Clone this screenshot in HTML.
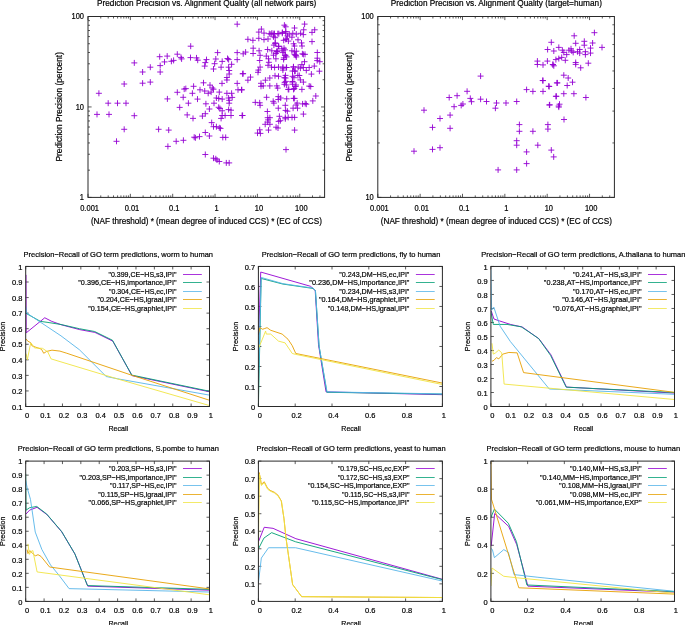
<!DOCTYPE html>
<html><head><meta charset="utf-8"><style>html,body{margin:0;padding:0;background:#fff;overflow:hidden}svg{display:block;will-change:transform}text{font-family:"Liberation Sans",sans-serif;stroke:#000;stroke-width:0.2px}</style></head>
<body>
<svg width="685" height="625" viewBox="0 0 685 625" font-family="Liberation Sans, sans-serif" fill="#000">
<rect width="685" height="625" fill="#fff"/>
<line x1="88.00" y1="197.40" x2="88.00" y2="193.80" stroke="#333" stroke-width="0.8" />
<line x1="88.00" y1="16.50" x2="88.00" y2="20.10" stroke="#333" stroke-width="0.8" />
<line x1="100.75" y1="197.40" x2="100.75" y2="195.40" stroke="#333" stroke-width="0.8" />
<line x1="100.75" y1="16.50" x2="100.75" y2="18.50" stroke="#333" stroke-width="0.8" />
<line x1="108.21" y1="197.40" x2="108.21" y2="195.40" stroke="#333" stroke-width="0.8" />
<line x1="108.21" y1="16.50" x2="108.21" y2="18.50" stroke="#333" stroke-width="0.8" />
<line x1="113.50" y1="197.40" x2="113.50" y2="195.40" stroke="#333" stroke-width="0.8" />
<line x1="113.50" y1="16.50" x2="113.50" y2="18.50" stroke="#333" stroke-width="0.8" />
<line x1="117.60" y1="197.40" x2="117.60" y2="195.40" stroke="#333" stroke-width="0.8" />
<line x1="117.60" y1="16.50" x2="117.60" y2="18.50" stroke="#333" stroke-width="0.8" />
<line x1="120.95" y1="197.40" x2="120.95" y2="195.40" stroke="#333" stroke-width="0.8" />
<line x1="120.95" y1="16.50" x2="120.95" y2="18.50" stroke="#333" stroke-width="0.8" />
<line x1="123.79" y1="197.40" x2="123.79" y2="195.40" stroke="#333" stroke-width="0.8" />
<line x1="123.79" y1="16.50" x2="123.79" y2="18.50" stroke="#333" stroke-width="0.8" />
<line x1="126.25" y1="197.40" x2="126.25" y2="195.40" stroke="#333" stroke-width="0.8" />
<line x1="126.25" y1="16.50" x2="126.25" y2="18.50" stroke="#333" stroke-width="0.8" />
<line x1="128.41" y1="197.40" x2="128.41" y2="195.40" stroke="#333" stroke-width="0.8" />
<line x1="128.41" y1="16.50" x2="128.41" y2="18.50" stroke="#333" stroke-width="0.8" />
<text x="89.60" y="210.60" font-size="8.4" text-anchor="middle" textLength="18.77" lengthAdjust="spacingAndGlyphs" >0.001</text>
<line x1="130.35" y1="197.40" x2="130.35" y2="193.80" stroke="#333" stroke-width="0.8" />
<line x1="130.35" y1="16.50" x2="130.35" y2="20.10" stroke="#333" stroke-width="0.8" />
<line x1="143.10" y1="197.40" x2="143.10" y2="195.40" stroke="#333" stroke-width="0.8" />
<line x1="143.10" y1="16.50" x2="143.10" y2="18.50" stroke="#333" stroke-width="0.8" />
<line x1="150.56" y1="197.40" x2="150.56" y2="195.40" stroke="#333" stroke-width="0.8" />
<line x1="150.56" y1="16.50" x2="150.56" y2="18.50" stroke="#333" stroke-width="0.8" />
<line x1="155.85" y1="197.40" x2="155.85" y2="195.40" stroke="#333" stroke-width="0.8" />
<line x1="155.85" y1="16.50" x2="155.85" y2="18.50" stroke="#333" stroke-width="0.8" />
<line x1="159.95" y1="197.40" x2="159.95" y2="195.40" stroke="#333" stroke-width="0.8" />
<line x1="159.95" y1="16.50" x2="159.95" y2="18.50" stroke="#333" stroke-width="0.8" />
<line x1="163.30" y1="197.40" x2="163.30" y2="195.40" stroke="#333" stroke-width="0.8" />
<line x1="163.30" y1="16.50" x2="163.30" y2="18.50" stroke="#333" stroke-width="0.8" />
<line x1="166.14" y1="197.40" x2="166.14" y2="195.40" stroke="#333" stroke-width="0.8" />
<line x1="166.14" y1="16.50" x2="166.14" y2="18.50" stroke="#333" stroke-width="0.8" />
<line x1="168.60" y1="197.40" x2="168.60" y2="195.40" stroke="#333" stroke-width="0.8" />
<line x1="168.60" y1="16.50" x2="168.60" y2="18.50" stroke="#333" stroke-width="0.8" />
<line x1="170.76" y1="197.40" x2="170.76" y2="195.40" stroke="#333" stroke-width="0.8" />
<line x1="170.76" y1="16.50" x2="170.76" y2="18.50" stroke="#333" stroke-width="0.8" />
<text x="131.95" y="210.60" font-size="8.4" text-anchor="middle" textLength="14.60" lengthAdjust="spacingAndGlyphs" >0.01</text>
<line x1="172.70" y1="197.40" x2="172.70" y2="193.80" stroke="#333" stroke-width="0.8" />
<line x1="172.70" y1="16.50" x2="172.70" y2="20.10" stroke="#333" stroke-width="0.8" />
<line x1="185.45" y1="197.40" x2="185.45" y2="195.40" stroke="#333" stroke-width="0.8" />
<line x1="185.45" y1="16.50" x2="185.45" y2="18.50" stroke="#333" stroke-width="0.8" />
<line x1="192.91" y1="197.40" x2="192.91" y2="195.40" stroke="#333" stroke-width="0.8" />
<line x1="192.91" y1="16.50" x2="192.91" y2="18.50" stroke="#333" stroke-width="0.8" />
<line x1="198.20" y1="197.40" x2="198.20" y2="195.40" stroke="#333" stroke-width="0.8" />
<line x1="198.20" y1="16.50" x2="198.20" y2="18.50" stroke="#333" stroke-width="0.8" />
<line x1="202.30" y1="197.40" x2="202.30" y2="195.40" stroke="#333" stroke-width="0.8" />
<line x1="202.30" y1="16.50" x2="202.30" y2="18.50" stroke="#333" stroke-width="0.8" />
<line x1="205.65" y1="197.40" x2="205.65" y2="195.40" stroke="#333" stroke-width="0.8" />
<line x1="205.65" y1="16.50" x2="205.65" y2="18.50" stroke="#333" stroke-width="0.8" />
<line x1="208.49" y1="197.40" x2="208.49" y2="195.40" stroke="#333" stroke-width="0.8" />
<line x1="208.49" y1="16.50" x2="208.49" y2="18.50" stroke="#333" stroke-width="0.8" />
<line x1="210.95" y1="197.40" x2="210.95" y2="195.40" stroke="#333" stroke-width="0.8" />
<line x1="210.95" y1="16.50" x2="210.95" y2="18.50" stroke="#333" stroke-width="0.8" />
<line x1="213.11" y1="197.40" x2="213.11" y2="195.40" stroke="#333" stroke-width="0.8" />
<line x1="213.11" y1="16.50" x2="213.11" y2="18.50" stroke="#333" stroke-width="0.8" />
<text x="174.30" y="210.60" font-size="8.4" text-anchor="middle" textLength="10.43" lengthAdjust="spacingAndGlyphs" >0.1</text>
<line x1="215.05" y1="197.40" x2="215.05" y2="193.80" stroke="#333" stroke-width="0.8" />
<line x1="215.05" y1="16.50" x2="215.05" y2="20.10" stroke="#333" stroke-width="0.8" />
<line x1="227.80" y1="197.40" x2="227.80" y2="195.40" stroke="#333" stroke-width="0.8" />
<line x1="227.80" y1="16.50" x2="227.80" y2="18.50" stroke="#333" stroke-width="0.8" />
<line x1="235.26" y1="197.40" x2="235.26" y2="195.40" stroke="#333" stroke-width="0.8" />
<line x1="235.26" y1="16.50" x2="235.26" y2="18.50" stroke="#333" stroke-width="0.8" />
<line x1="240.55" y1="197.40" x2="240.55" y2="195.40" stroke="#333" stroke-width="0.8" />
<line x1="240.55" y1="16.50" x2="240.55" y2="18.50" stroke="#333" stroke-width="0.8" />
<line x1="244.65" y1="197.40" x2="244.65" y2="195.40" stroke="#333" stroke-width="0.8" />
<line x1="244.65" y1="16.50" x2="244.65" y2="18.50" stroke="#333" stroke-width="0.8" />
<line x1="248.00" y1="197.40" x2="248.00" y2="195.40" stroke="#333" stroke-width="0.8" />
<line x1="248.00" y1="16.50" x2="248.00" y2="18.50" stroke="#333" stroke-width="0.8" />
<line x1="250.84" y1="197.40" x2="250.84" y2="195.40" stroke="#333" stroke-width="0.8" />
<line x1="250.84" y1="16.50" x2="250.84" y2="18.50" stroke="#333" stroke-width="0.8" />
<line x1="253.30" y1="197.40" x2="253.30" y2="195.40" stroke="#333" stroke-width="0.8" />
<line x1="253.30" y1="16.50" x2="253.30" y2="18.50" stroke="#333" stroke-width="0.8" />
<line x1="255.46" y1="197.40" x2="255.46" y2="195.40" stroke="#333" stroke-width="0.8" />
<line x1="255.46" y1="16.50" x2="255.46" y2="18.50" stroke="#333" stroke-width="0.8" />
<text x="216.65" y="210.60" font-size="8.4" text-anchor="middle" textLength="4.17" lengthAdjust="spacingAndGlyphs" >1</text>
<line x1="257.40" y1="197.40" x2="257.40" y2="193.80" stroke="#333" stroke-width="0.8" />
<line x1="257.40" y1="16.50" x2="257.40" y2="20.10" stroke="#333" stroke-width="0.8" />
<line x1="270.15" y1="197.40" x2="270.15" y2="195.40" stroke="#333" stroke-width="0.8" />
<line x1="270.15" y1="16.50" x2="270.15" y2="18.50" stroke="#333" stroke-width="0.8" />
<line x1="277.61" y1="197.40" x2="277.61" y2="195.40" stroke="#333" stroke-width="0.8" />
<line x1="277.61" y1="16.50" x2="277.61" y2="18.50" stroke="#333" stroke-width="0.8" />
<line x1="282.90" y1="197.40" x2="282.90" y2="195.40" stroke="#333" stroke-width="0.8" />
<line x1="282.90" y1="16.50" x2="282.90" y2="18.50" stroke="#333" stroke-width="0.8" />
<line x1="287.00" y1="197.40" x2="287.00" y2="195.40" stroke="#333" stroke-width="0.8" />
<line x1="287.00" y1="16.50" x2="287.00" y2="18.50" stroke="#333" stroke-width="0.8" />
<line x1="290.35" y1="197.40" x2="290.35" y2="195.40" stroke="#333" stroke-width="0.8" />
<line x1="290.35" y1="16.50" x2="290.35" y2="18.50" stroke="#333" stroke-width="0.8" />
<line x1="293.19" y1="197.40" x2="293.19" y2="195.40" stroke="#333" stroke-width="0.8" />
<line x1="293.19" y1="16.50" x2="293.19" y2="18.50" stroke="#333" stroke-width="0.8" />
<line x1="295.65" y1="197.40" x2="295.65" y2="195.40" stroke="#333" stroke-width="0.8" />
<line x1="295.65" y1="16.50" x2="295.65" y2="18.50" stroke="#333" stroke-width="0.8" />
<line x1="297.81" y1="197.40" x2="297.81" y2="195.40" stroke="#333" stroke-width="0.8" />
<line x1="297.81" y1="16.50" x2="297.81" y2="18.50" stroke="#333" stroke-width="0.8" />
<text x="259.00" y="210.60" font-size="8.4" text-anchor="middle" textLength="8.34" lengthAdjust="spacingAndGlyphs" >10</text>
<line x1="299.75" y1="197.40" x2="299.75" y2="193.80" stroke="#333" stroke-width="0.8" />
<line x1="299.75" y1="16.50" x2="299.75" y2="20.10" stroke="#333" stroke-width="0.8" />
<line x1="312.50" y1="197.40" x2="312.50" y2="195.40" stroke="#333" stroke-width="0.8" />
<line x1="312.50" y1="16.50" x2="312.50" y2="18.50" stroke="#333" stroke-width="0.8" />
<line x1="319.96" y1="197.40" x2="319.96" y2="195.40" stroke="#333" stroke-width="0.8" />
<line x1="319.96" y1="16.50" x2="319.96" y2="18.50" stroke="#333" stroke-width="0.8" />
<text x="301.35" y="210.60" font-size="8.4" text-anchor="middle" textLength="12.51" lengthAdjust="spacingAndGlyphs" >100</text>
<line x1="88.00" y1="197.40" x2="91.60" y2="197.40" stroke="#333" stroke-width="0.8" />
<line x1="324.60" y1="197.40" x2="321.00" y2="197.40" stroke="#333" stroke-width="0.8" />
<line x1="88.00" y1="170.17" x2="90.00" y2="170.17" stroke="#333" stroke-width="0.8" />
<line x1="324.60" y1="170.17" x2="322.60" y2="170.17" stroke="#333" stroke-width="0.8" />
<line x1="88.00" y1="154.24" x2="90.00" y2="154.24" stroke="#333" stroke-width="0.8" />
<line x1="324.60" y1="154.24" x2="322.60" y2="154.24" stroke="#333" stroke-width="0.8" />
<line x1="88.00" y1="142.94" x2="90.00" y2="142.94" stroke="#333" stroke-width="0.8" />
<line x1="324.60" y1="142.94" x2="322.60" y2="142.94" stroke="#333" stroke-width="0.8" />
<line x1="88.00" y1="134.18" x2="90.00" y2="134.18" stroke="#333" stroke-width="0.8" />
<line x1="324.60" y1="134.18" x2="322.60" y2="134.18" stroke="#333" stroke-width="0.8" />
<line x1="88.00" y1="127.02" x2="90.00" y2="127.02" stroke="#333" stroke-width="0.8" />
<line x1="324.60" y1="127.02" x2="322.60" y2="127.02" stroke="#333" stroke-width="0.8" />
<line x1="88.00" y1="120.96" x2="90.00" y2="120.96" stroke="#333" stroke-width="0.8" />
<line x1="324.60" y1="120.96" x2="322.60" y2="120.96" stroke="#333" stroke-width="0.8" />
<line x1="88.00" y1="115.72" x2="90.00" y2="115.72" stroke="#333" stroke-width="0.8" />
<line x1="324.60" y1="115.72" x2="322.60" y2="115.72" stroke="#333" stroke-width="0.8" />
<line x1="88.00" y1="111.09" x2="90.00" y2="111.09" stroke="#333" stroke-width="0.8" />
<line x1="324.60" y1="111.09" x2="322.60" y2="111.09" stroke="#333" stroke-width="0.8" />
<text x="84.00" y="200.10" font-size="8.4" text-anchor="end" textLength="4.17" lengthAdjust="spacingAndGlyphs" >1</text>
<line x1="88.00" y1="106.95" x2="91.60" y2="106.95" stroke="#333" stroke-width="0.8" />
<line x1="324.60" y1="106.95" x2="321.00" y2="106.95" stroke="#333" stroke-width="0.8" />
<line x1="88.00" y1="79.72" x2="90.00" y2="79.72" stroke="#333" stroke-width="0.8" />
<line x1="324.60" y1="79.72" x2="322.60" y2="79.72" stroke="#333" stroke-width="0.8" />
<line x1="88.00" y1="63.79" x2="90.00" y2="63.79" stroke="#333" stroke-width="0.8" />
<line x1="324.60" y1="63.79" x2="322.60" y2="63.79" stroke="#333" stroke-width="0.8" />
<line x1="88.00" y1="52.49" x2="90.00" y2="52.49" stroke="#333" stroke-width="0.8" />
<line x1="324.60" y1="52.49" x2="322.60" y2="52.49" stroke="#333" stroke-width="0.8" />
<line x1="88.00" y1="43.73" x2="90.00" y2="43.73" stroke="#333" stroke-width="0.8" />
<line x1="324.60" y1="43.73" x2="322.60" y2="43.73" stroke="#333" stroke-width="0.8" />
<line x1="88.00" y1="36.57" x2="90.00" y2="36.57" stroke="#333" stroke-width="0.8" />
<line x1="324.60" y1="36.57" x2="322.60" y2="36.57" stroke="#333" stroke-width="0.8" />
<line x1="88.00" y1="30.51" x2="90.00" y2="30.51" stroke="#333" stroke-width="0.8" />
<line x1="324.60" y1="30.51" x2="322.60" y2="30.51" stroke="#333" stroke-width="0.8" />
<line x1="88.00" y1="25.27" x2="90.00" y2="25.27" stroke="#333" stroke-width="0.8" />
<line x1="324.60" y1="25.27" x2="322.60" y2="25.27" stroke="#333" stroke-width="0.8" />
<line x1="88.00" y1="20.64" x2="90.00" y2="20.64" stroke="#333" stroke-width="0.8" />
<line x1="324.60" y1="20.64" x2="322.60" y2="20.64" stroke="#333" stroke-width="0.8" />
<text x="84.00" y="109.65" font-size="8.4" text-anchor="end" textLength="8.34" lengthAdjust="spacingAndGlyphs" >10</text>
<line x1="88.00" y1="16.50" x2="91.60" y2="16.50" stroke="#333" stroke-width="0.8" />
<line x1="324.60" y1="16.50" x2="321.00" y2="16.50" stroke="#333" stroke-width="0.8" />
<text x="84.00" y="19.20" font-size="8.4" text-anchor="end" textLength="12.51" lengthAdjust="spacingAndGlyphs" >100</text>
<rect x="88" y="16.5" width="236.60000000000002" height="180.9" fill="none" stroke="#2a2a2a" stroke-width="1"/>
<path d="M131.30 62.90h6M134.30 59.90v6M147.30 67.20h6M150.30 64.20v6M157.20 65.60h6M160.20 62.60v6M161.50 61.90h6M164.50 58.90v6M168.40 61.30h6M171.40 58.30v6M139.60 72.00h6M142.60 69.00v6M157.20 72.00h6M160.20 69.00v6M121.20 84.00h6M124.20 81.00v6M139.60 83.20h6M142.60 80.20v6M147.30 82.10h6M150.30 79.10v6M95.90 93.30h6M98.90 90.30v6M174.30 92.30h6M177.30 89.30v6M181.20 89.10h6M184.20 86.10v6M180.20 97.30h6M183.20 94.30v6M164.40 98.90h6M167.40 95.90v6M105.20 103.20h6M108.20 100.20v6M114.50 103.20h6M117.50 100.20v6M123.00 103.20h6M126.00 100.20v6M176.70 107.40h6M179.70 104.40v6M94.00 114.40h6M97.00 111.40v6M106.00 114.40h6M109.00 111.40v6M131.30 115.70h6M134.30 112.70v6M121.20 129.30h6M124.20 126.30v6M155.60 129.30h6M158.60 126.30v6M165.70 130.10h6M168.70 127.10v6M113.50 141.30h6M116.50 138.30v6M173.20 141.30h6M176.20 138.30v6M180.40 140.30h6M183.40 137.30v6M164.90 146.40h6M167.90 143.40v6M156.70 56.70h6M159.70 53.70v6M164.20 56.10h6M167.20 53.10v6M170.60 60.40h6M173.60 57.40v6M174.30 54.20h6M177.30 51.20v6M178.00 57.40h6M181.00 54.40v6M178.60 58.90h6M181.60 55.90v6M234.20 24.20h6M237.20 21.20v6M187.70 46.20h6M190.70 43.20v6M187.50 57.60h6M190.50 54.60v6M193.50 57.90h6M196.50 54.90v6M194.70 60.20h6M197.70 57.20v6M203.50 59.60h6M206.50 56.60v6M202.30 62.60h6M205.30 59.60v6M201.70 66.10h6M204.70 63.10v6M214.60 52.60h6M217.60 49.60v6M212.80 59.00h6M215.80 56.00v6M211.60 63.70h6M214.60 60.70v6M210.50 69.00h6M213.50 66.00v6M219.20 61.40h6M222.20 58.40v6M218.10 67.20h6M221.10 64.20v6M224.50 58.50h6M227.50 55.50v6M225.60 59.60h6M228.60 56.60v6M225.60 67.20h6M228.60 64.20v6M228.60 64.30h6M231.60 61.30v6M234.20 52.60h6M237.20 49.60v6M234.20 59.60h6M237.20 56.60v6M240.20 53.80h6M243.20 50.80v6M226.20 70.50h6M229.20 67.50v6M226.20 74.00h6M229.20 71.00v6M239.70 73.80h6M242.70 70.80v6M223.90 77.50h6M226.90 74.50v6M223.90 80.00h6M226.90 77.00v6M200.50 82.80h6M203.50 79.80v6M207.00 85.10h6M210.00 82.10v6M209.30 88.00h6M212.30 85.00v6M210.50 89.20h6M213.50 86.20v6M219.00 83.40h6M222.00 80.40v6M234.20 83.40h6M237.20 80.40v6M235.00 89.80h6M238.00 86.80v6M238.50 89.80h6M241.50 86.80v6M190.60 86.30h6M193.60 83.30v6M182.80 88.60h6M185.80 85.60v6M197.00 89.80h6M200.00 86.80v6M189.40 93.30h6M192.40 90.30v6M201.70 91.00h6M204.70 88.00v6M205.20 93.30h6M208.20 90.30v6M208.10 92.10h6M211.10 89.10v6M216.30 92.10h6M219.30 89.10v6M223.90 93.30h6M226.90 90.30v6M228.60 93.30h6M231.60 90.30v6M194.50 99.10h6M197.50 96.10v6M213.40 98.00h6M216.40 95.00v6M215.70 98.50h6M218.70 95.50v6M219.20 99.10h6M222.20 96.10v6M225.60 98.00h6M228.60 95.00v6M229.20 97.40h6M232.20 94.40v6M226.20 100.30h6M229.20 97.30v6M185.40 103.20h6M188.40 100.20v6M202.90 103.80h6M205.90 100.80v6M211.00 103.20h6M214.00 100.20v6M226.20 103.20h6M229.20 100.20v6M206.40 109.00h6M209.40 106.00v6M215.70 107.30h6M218.70 104.30v6M216.90 108.50h6M219.90 105.50v6M219.20 110.80h6M222.20 107.80v6M225.60 109.60h6M228.60 106.60v6M228.00 110.20h6M231.00 107.20v6M184.20 114.90h6M187.20 111.90v6M190.00 118.40h6M193.00 115.40v6M202.30 113.70h6M205.30 110.70v6M199.40 116.10h6M202.40 113.10v6M219.20 115.50h6M222.20 112.50v6M222.10 115.50h6M225.10 112.50v6M228.00 115.50h6M231.00 112.50v6M239.10 115.50h6M242.10 112.50v6M218.10 118.40h6M221.10 115.40v6M208.70 122.60h6M211.70 119.60v6M210.50 126.70h6M213.50 123.70v6M213.40 126.70h6M216.40 123.70v6M216.30 127.80h6M219.30 124.80v6M217.50 128.40h6M220.50 125.40v6M202.30 132.50h6M205.30 129.50v6M206.40 136.00h6M209.40 133.00v6M191.20 137.20h6M194.20 134.20v6M192.40 137.80h6M195.40 134.80v6M196.50 136.60h6M199.50 133.60v6M219.80 137.40h6M222.80 134.40v6M222.70 137.40h6M225.70 134.40v6M202.30 154.50h6M205.30 151.50v6M210.50 158.20h6M213.50 155.20v6M212.80 158.80h6M215.80 155.80v6M214.00 160.00h6M217.00 157.00v6M216.30 161.50h6M219.30 158.50v6M223.30 162.90h6M226.30 159.90v6M226.20 162.90h6M229.20 159.90v6M258.40 29.10h6M261.40 26.10v6M255.80 32.10h6M258.80 29.10v6M261.00 33.10h6M264.00 30.10v6M281.40 25.20h6M284.40 22.20v6M282.70 26.80h6M285.70 23.80v6M244.90 39.30h6M247.90 36.30v6M249.90 40.30h6M252.90 37.30v6M255.80 38.30h6M258.80 35.30v6M261.00 39.60h6M264.00 36.60v6M266.30 33.70h6M269.30 30.70v6M268.90 33.10h6M271.90 30.10v6M270.90 33.70h6M273.90 30.70v6M274.80 33.70h6M277.80 30.70v6M279.40 32.40h6M282.40 29.40v6M282.70 33.10h6M285.70 30.10v6M265.00 39.00h6M268.00 36.00v6M272.20 37.70h6M275.20 34.70v6M272.20 43.60h6M275.20 40.60v6M275.50 46.20h6M278.50 43.20v6M280.70 40.30h6M283.70 37.30v6M283.40 39.00h6M286.40 36.00v6M250.20 48.20h6M253.20 45.20v6M256.10 50.80h6M259.10 47.80v6M264.60 49.50h6M267.60 46.50v6M242.60 52.10h6M245.60 49.10v6M278.80 48.80h6M281.80 45.80v6M282.00 49.80h6M285.00 46.80v6M274.20 50.80h6M277.20 47.80v6M301.60 24.10h6M304.60 21.10v6M291.50 28.00h6M294.50 25.00v6M300.70 29.80h6M303.70 26.80v6M311.70 29.80h6M314.70 26.80v6M309.00 32.40h6M312.00 29.40v6M267.90 34.10h6M270.90 31.10v6M271.40 33.70h6M274.40 30.70v6M275.80 33.70h6M278.80 30.70v6M279.30 33.30h6M282.30 30.30v6M282.80 31.50h6M285.80 28.50v6M286.30 34.10h6M289.30 31.10v6M289.80 33.30h6M292.80 30.30v6M293.30 34.10h6M296.30 31.10v6M297.60 33.30h6M300.60 30.30v6M300.30 34.60h6M303.30 31.60v6M270.50 36.80h6M273.50 33.80v6M284.50 35.90h6M287.50 32.90v6M288.90 37.20h6M291.90 34.20v6M282.80 39.40h6M285.80 36.40v6M295.00 39.80h6M298.00 36.80v6M309.00 41.60h6M312.00 38.60v6M272.30 42.90h6M275.30 39.90v6M290.60 43.80h6M293.60 40.80v6M298.50 42.90h6M301.50 39.90v6M285.40 41.10h6M288.40 38.10v6M270.90 45.10h6M273.90 42.10v6M275.80 46.40h6M278.80 43.40v6M281.00 48.20h6M284.00 45.20v6M291.50 46.00h6M294.50 43.00v6M299.00 46.00h6M302.00 43.00v6M268.80 50.80h6M271.80 47.80v6M274.00 51.70h6M277.00 48.70v6M280.10 50.80h6M283.10 47.80v6M288.90 50.80h6M291.90 47.80v6M293.30 51.20h6M296.30 48.20v6M299.40 53.80h6M302.40 50.80v6M302.00 54.30h6M305.00 51.30v6M314.30 52.50h6M317.30 49.50v6M270.50 55.20h6M273.50 52.20v6M281.90 55.20h6M284.90 52.20v6M283.60 56.90h6M286.60 53.90v6M292.40 55.20h6M295.40 52.20v6M293.30 56.90h6M296.30 53.90v6M314.30 58.20h6M317.30 55.20v6M250.10 53.50h6M253.10 50.50v6M257.10 55.30h6M260.10 52.30v6M263.30 56.10h6M266.30 53.10v6M265.50 58.80h6M268.50 55.80v6M256.70 60.50h6M259.70 57.50v6M265.90 62.30h6M268.90 59.30v6M265.00 65.30h6M268.00 62.30v6M272.90 53.50h6M275.90 50.50v6M272.90 58.80h6M275.90 55.80v6M273.80 51.80h6M276.80 48.80v6M279.90 52.60h6M282.90 49.60v6M280.80 57.90h6M283.80 54.90v6M282.50 55.30h6M285.50 52.30v6M291.30 51.80h6M294.30 48.80v6M293.00 55.30h6M296.00 52.30v6M257.10 67.10h6M260.10 64.10v6M255.40 70.10h6M258.40 67.10v6M255.00 72.30h6M258.00 69.30v6M268.50 67.10h6M271.50 64.10v6M271.60 67.50h6M274.60 64.50v6M275.50 67.10h6M278.50 64.10v6M279.90 67.10h6M282.90 64.10v6M279.90 70.10h6M282.90 67.10v6M283.40 67.50h6M286.40 64.50v6M290.40 67.10h6M293.40 64.10v6M295.20 67.10h6M298.20 64.10v6M289.50 71.00h6M292.50 68.00v6M292.20 71.00h6M295.20 68.00v6M240.10 73.60h6M243.10 70.60v6M247.50 77.10h6M250.50 74.10v6M244.90 80.20h6M247.90 77.20v6M272.00 75.80h6M275.00 72.80v6M275.50 76.30h6M278.50 73.30v6M266.80 78.00h6M269.80 75.00v6M262.40 80.20h6M265.40 77.20v6M282.50 75.40h6M285.50 72.40v6M282.50 78.00h6M285.50 75.00v6M289.50 76.30h6M292.50 73.30v6M294.80 75.40h6M297.80 72.40v6M258.00 83.30h6M261.00 80.30v6M260.20 85.90h6M263.20 82.90v6M258.00 86.30h6M261.00 83.30v6M266.80 85.90h6M269.80 82.90v6M273.80 85.90h6M276.80 82.90v6M274.70 88.10h6M277.70 85.10v6M281.70 82.40h6M284.70 79.40v6M283.40 85.00h6M286.40 82.00v6M289.50 81.50h6M292.50 78.50v6M289.50 84.20h6M292.50 81.20v6M293.00 85.00h6M296.00 82.00v6M285.20 89.40h6M288.20 86.40v6M291.30 88.50h6M294.30 85.50v6M238.80 89.80h6M241.80 86.80v6M314.20 60.60h6M317.20 57.60v6M316.80 61.70h6M319.80 58.70v6M316.40 71.20h6M319.40 68.20v6M311.30 66.10h6M314.30 63.10v6M308.40 74.10h6M311.40 71.10v6M306.20 67.50h6M309.20 64.50v6M301.50 61.70h6M304.50 58.70v6M300.40 54.40h6M303.40 51.40v6M298.90 64.60h6M301.90 61.60v6M300.40 67.50h6M303.40 64.50v6M297.40 68.20h6M300.40 65.20v6M303.30 70.40h6M306.30 67.40v6M291.60 71.20h6M294.60 68.20v6M290.50 66.80h6M293.50 63.80v6M283.60 67.50h6M286.60 64.50v6M279.90 68.20h6M282.90 65.20v6M281.40 77.70h6M284.40 74.70v6M282.80 81.40h6M285.80 78.40v6M281.40 84.30h6M284.40 81.30v6M289.40 82.10h6M292.40 79.10v6M290.90 77.70h6M293.90 74.70v6M296.30 75.50h6M299.30 72.50v6M297.40 79.90h6M300.40 76.90v6M300.40 82.10h6M303.40 79.10v6M306.20 86.10h6M309.20 83.10v6M307.70 86.50h6M310.70 83.50v6M292.70 86.50h6M295.70 83.50v6M298.90 89.40h6M301.90 86.40v6M285.80 89.40h6M288.80 86.40v6M290.50 89.40h6M293.50 86.40v6M280.60 59.50h6M283.60 56.50v6M291.60 54.40h6M294.60 51.40v6M263.60 97.30h6M266.60 94.30v6M275.30 96.60h6M278.30 93.60v6M275.30 99.50h6M278.30 96.50v6M283.70 98.80h6M286.70 95.80v6M252.30 102.40h6M255.30 99.40v6M256.70 102.80h6M259.70 99.80v6M257.10 105.30h6M260.10 102.30v6M270.20 101.30h6M273.20 98.30v6M270.90 103.10h6M273.90 100.10v6M282.30 105.30h6M285.30 102.30v6M275.30 108.20h6M278.30 105.20v6M282.60 110.40h6M285.60 107.40v6M284.40 111.20h6M287.40 108.20v6M264.40 111.50h6M267.40 108.50v6M239.60 115.50h6M242.60 112.50v6M264.70 117.70h6M267.70 114.70v6M266.90 117.70h6M269.90 114.70v6M265.10 119.90h6M268.10 116.90v6M264.70 122.10h6M267.70 119.10v6M262.20 124.30h6M265.20 121.30v6M266.90 124.30h6M269.90 121.30v6M276.40 116.30h6M279.40 113.30v6M282.30 117.40h6M285.30 114.40v6M285.20 117.40h6M288.20 114.40v6M282.30 118.80h6M285.30 115.80v6M275.70 121.40h6M278.70 118.40v6M273.10 127.20h6M276.10 124.20v6M275.00 128.00h6M278.00 125.00v6M256.70 129.80h6M259.70 126.80v6M254.50 133.10h6M257.50 130.10v6M257.40 133.40h6M260.40 130.40v6M265.50 130.10h6M268.50 127.10v6M312.80 96.00h6M315.80 93.00v6M309.80 100.90h6M312.80 97.90v6M290.50 98.40h6M293.50 95.40v6M291.60 98.40h6M294.60 95.40v6M277.70 98.00h6M280.70 95.00v6M293.10 105.00h6M296.10 102.00v6M294.20 103.10h6M297.20 100.10v6M299.60 103.90h6M302.60 100.90v6M302.20 103.50h6M305.20 100.50v6M303.30 104.20h6M306.30 101.20v6M290.10 108.20h6M293.10 105.20v6M294.50 108.20h6M297.50 105.20v6M300.40 114.10h6M303.40 111.10v6M289.00 117.40h6M292.00 114.40v6M291.60 117.40h6M294.60 114.40v6M277.40 120.70h6M280.40 117.70v6M291.60 130.10h6M294.60 127.10v6M283.00 149.60h6M286.00 146.60v6" stroke="#9400d3" stroke-width="0.9" fill="none"/>
<text x="206.65" y="5.70" font-size="8.4" text-anchor="middle" textLength="219.30" lengthAdjust="spacingAndGlyphs" >Prediction Precision vs. Alignment Quality (all network pairs)</text>
<text x="206.40" y="223.90" font-size="8.4" text-anchor="middle" textLength="231.00" lengthAdjust="spacingAndGlyphs" >(NAF threshold) * (mean degree of induced CCS) * (EC of CCS)</text>
<text transform="translate(62,106.8) rotate(-90)" font-size="8.4" text-anchor="middle" textLength="109.5" lengthAdjust="spacingAndGlyphs">Prediction Precision (percent)</text>
<line x1="377.80" y1="197.40" x2="377.80" y2="193.80" stroke="#333" stroke-width="0.8" />
<line x1="377.80" y1="16.50" x2="377.80" y2="20.10" stroke="#333" stroke-width="0.8" />
<line x1="390.55" y1="197.40" x2="390.55" y2="195.40" stroke="#333" stroke-width="0.8" />
<line x1="390.55" y1="16.50" x2="390.55" y2="18.50" stroke="#333" stroke-width="0.8" />
<line x1="398.01" y1="197.40" x2="398.01" y2="195.40" stroke="#333" stroke-width="0.8" />
<line x1="398.01" y1="16.50" x2="398.01" y2="18.50" stroke="#333" stroke-width="0.8" />
<line x1="403.30" y1="197.40" x2="403.30" y2="195.40" stroke="#333" stroke-width="0.8" />
<line x1="403.30" y1="16.50" x2="403.30" y2="18.50" stroke="#333" stroke-width="0.8" />
<line x1="407.40" y1="197.40" x2="407.40" y2="195.40" stroke="#333" stroke-width="0.8" />
<line x1="407.40" y1="16.50" x2="407.40" y2="18.50" stroke="#333" stroke-width="0.8" />
<line x1="410.75" y1="197.40" x2="410.75" y2="195.40" stroke="#333" stroke-width="0.8" />
<line x1="410.75" y1="16.50" x2="410.75" y2="18.50" stroke="#333" stroke-width="0.8" />
<line x1="413.59" y1="197.40" x2="413.59" y2="195.40" stroke="#333" stroke-width="0.8" />
<line x1="413.59" y1="16.50" x2="413.59" y2="18.50" stroke="#333" stroke-width="0.8" />
<line x1="416.05" y1="197.40" x2="416.05" y2="195.40" stroke="#333" stroke-width="0.8" />
<line x1="416.05" y1="16.50" x2="416.05" y2="18.50" stroke="#333" stroke-width="0.8" />
<line x1="418.21" y1="197.40" x2="418.21" y2="195.40" stroke="#333" stroke-width="0.8" />
<line x1="418.21" y1="16.50" x2="418.21" y2="18.50" stroke="#333" stroke-width="0.8" />
<text x="379.40" y="210.60" font-size="8.4" text-anchor="middle" textLength="18.77" lengthAdjust="spacingAndGlyphs" >0.001</text>
<line x1="420.15" y1="197.40" x2="420.15" y2="193.80" stroke="#333" stroke-width="0.8" />
<line x1="420.15" y1="16.50" x2="420.15" y2="20.10" stroke="#333" stroke-width="0.8" />
<line x1="432.90" y1="197.40" x2="432.90" y2="195.40" stroke="#333" stroke-width="0.8" />
<line x1="432.90" y1="16.50" x2="432.90" y2="18.50" stroke="#333" stroke-width="0.8" />
<line x1="440.36" y1="197.40" x2="440.36" y2="195.40" stroke="#333" stroke-width="0.8" />
<line x1="440.36" y1="16.50" x2="440.36" y2="18.50" stroke="#333" stroke-width="0.8" />
<line x1="445.65" y1="197.40" x2="445.65" y2="195.40" stroke="#333" stroke-width="0.8" />
<line x1="445.65" y1="16.50" x2="445.65" y2="18.50" stroke="#333" stroke-width="0.8" />
<line x1="449.75" y1="197.40" x2="449.75" y2="195.40" stroke="#333" stroke-width="0.8" />
<line x1="449.75" y1="16.50" x2="449.75" y2="18.50" stroke="#333" stroke-width="0.8" />
<line x1="453.10" y1="197.40" x2="453.10" y2="195.40" stroke="#333" stroke-width="0.8" />
<line x1="453.10" y1="16.50" x2="453.10" y2="18.50" stroke="#333" stroke-width="0.8" />
<line x1="455.94" y1="197.40" x2="455.94" y2="195.40" stroke="#333" stroke-width="0.8" />
<line x1="455.94" y1="16.50" x2="455.94" y2="18.50" stroke="#333" stroke-width="0.8" />
<line x1="458.40" y1="197.40" x2="458.40" y2="195.40" stroke="#333" stroke-width="0.8" />
<line x1="458.40" y1="16.50" x2="458.40" y2="18.50" stroke="#333" stroke-width="0.8" />
<line x1="460.56" y1="197.40" x2="460.56" y2="195.40" stroke="#333" stroke-width="0.8" />
<line x1="460.56" y1="16.50" x2="460.56" y2="18.50" stroke="#333" stroke-width="0.8" />
<text x="421.75" y="210.60" font-size="8.4" text-anchor="middle" textLength="14.60" lengthAdjust="spacingAndGlyphs" >0.01</text>
<line x1="462.50" y1="197.40" x2="462.50" y2="193.80" stroke="#333" stroke-width="0.8" />
<line x1="462.50" y1="16.50" x2="462.50" y2="20.10" stroke="#333" stroke-width="0.8" />
<line x1="475.25" y1="197.40" x2="475.25" y2="195.40" stroke="#333" stroke-width="0.8" />
<line x1="475.25" y1="16.50" x2="475.25" y2="18.50" stroke="#333" stroke-width="0.8" />
<line x1="482.71" y1="197.40" x2="482.71" y2="195.40" stroke="#333" stroke-width="0.8" />
<line x1="482.71" y1="16.50" x2="482.71" y2="18.50" stroke="#333" stroke-width="0.8" />
<line x1="488.00" y1="197.40" x2="488.00" y2="195.40" stroke="#333" stroke-width="0.8" />
<line x1="488.00" y1="16.50" x2="488.00" y2="18.50" stroke="#333" stroke-width="0.8" />
<line x1="492.10" y1="197.40" x2="492.10" y2="195.40" stroke="#333" stroke-width="0.8" />
<line x1="492.10" y1="16.50" x2="492.10" y2="18.50" stroke="#333" stroke-width="0.8" />
<line x1="495.45" y1="197.40" x2="495.45" y2="195.40" stroke="#333" stroke-width="0.8" />
<line x1="495.45" y1="16.50" x2="495.45" y2="18.50" stroke="#333" stroke-width="0.8" />
<line x1="498.29" y1="197.40" x2="498.29" y2="195.40" stroke="#333" stroke-width="0.8" />
<line x1="498.29" y1="16.50" x2="498.29" y2="18.50" stroke="#333" stroke-width="0.8" />
<line x1="500.75" y1="197.40" x2="500.75" y2="195.40" stroke="#333" stroke-width="0.8" />
<line x1="500.75" y1="16.50" x2="500.75" y2="18.50" stroke="#333" stroke-width="0.8" />
<line x1="502.91" y1="197.40" x2="502.91" y2="195.40" stroke="#333" stroke-width="0.8" />
<line x1="502.91" y1="16.50" x2="502.91" y2="18.50" stroke="#333" stroke-width="0.8" />
<text x="464.10" y="210.60" font-size="8.4" text-anchor="middle" textLength="10.43" lengthAdjust="spacingAndGlyphs" >0.1</text>
<line x1="504.85" y1="197.40" x2="504.85" y2="193.80" stroke="#333" stroke-width="0.8" />
<line x1="504.85" y1="16.50" x2="504.85" y2="20.10" stroke="#333" stroke-width="0.8" />
<line x1="517.60" y1="197.40" x2="517.60" y2="195.40" stroke="#333" stroke-width="0.8" />
<line x1="517.60" y1="16.50" x2="517.60" y2="18.50" stroke="#333" stroke-width="0.8" />
<line x1="525.06" y1="197.40" x2="525.06" y2="195.40" stroke="#333" stroke-width="0.8" />
<line x1="525.06" y1="16.50" x2="525.06" y2="18.50" stroke="#333" stroke-width="0.8" />
<line x1="530.35" y1="197.40" x2="530.35" y2="195.40" stroke="#333" stroke-width="0.8" />
<line x1="530.35" y1="16.50" x2="530.35" y2="18.50" stroke="#333" stroke-width="0.8" />
<line x1="534.45" y1="197.40" x2="534.45" y2="195.40" stroke="#333" stroke-width="0.8" />
<line x1="534.45" y1="16.50" x2="534.45" y2="18.50" stroke="#333" stroke-width="0.8" />
<line x1="537.80" y1="197.40" x2="537.80" y2="195.40" stroke="#333" stroke-width="0.8" />
<line x1="537.80" y1="16.50" x2="537.80" y2="18.50" stroke="#333" stroke-width="0.8" />
<line x1="540.64" y1="197.40" x2="540.64" y2="195.40" stroke="#333" stroke-width="0.8" />
<line x1="540.64" y1="16.50" x2="540.64" y2="18.50" stroke="#333" stroke-width="0.8" />
<line x1="543.10" y1="197.40" x2="543.10" y2="195.40" stroke="#333" stroke-width="0.8" />
<line x1="543.10" y1="16.50" x2="543.10" y2="18.50" stroke="#333" stroke-width="0.8" />
<line x1="545.26" y1="197.40" x2="545.26" y2="195.40" stroke="#333" stroke-width="0.8" />
<line x1="545.26" y1="16.50" x2="545.26" y2="18.50" stroke="#333" stroke-width="0.8" />
<text x="506.45" y="210.60" font-size="8.4" text-anchor="middle" textLength="4.17" lengthAdjust="spacingAndGlyphs" >1</text>
<line x1="547.20" y1="197.40" x2="547.20" y2="193.80" stroke="#333" stroke-width="0.8" />
<line x1="547.20" y1="16.50" x2="547.20" y2="20.10" stroke="#333" stroke-width="0.8" />
<line x1="559.95" y1="197.40" x2="559.95" y2="195.40" stroke="#333" stroke-width="0.8" />
<line x1="559.95" y1="16.50" x2="559.95" y2="18.50" stroke="#333" stroke-width="0.8" />
<line x1="567.41" y1="197.40" x2="567.41" y2="195.40" stroke="#333" stroke-width="0.8" />
<line x1="567.41" y1="16.50" x2="567.41" y2="18.50" stroke="#333" stroke-width="0.8" />
<line x1="572.70" y1="197.40" x2="572.70" y2="195.40" stroke="#333" stroke-width="0.8" />
<line x1="572.70" y1="16.50" x2="572.70" y2="18.50" stroke="#333" stroke-width="0.8" />
<line x1="576.80" y1="197.40" x2="576.80" y2="195.40" stroke="#333" stroke-width="0.8" />
<line x1="576.80" y1="16.50" x2="576.80" y2="18.50" stroke="#333" stroke-width="0.8" />
<line x1="580.15" y1="197.40" x2="580.15" y2="195.40" stroke="#333" stroke-width="0.8" />
<line x1="580.15" y1="16.50" x2="580.15" y2="18.50" stroke="#333" stroke-width="0.8" />
<line x1="582.99" y1="197.40" x2="582.99" y2="195.40" stroke="#333" stroke-width="0.8" />
<line x1="582.99" y1="16.50" x2="582.99" y2="18.50" stroke="#333" stroke-width="0.8" />
<line x1="585.45" y1="197.40" x2="585.45" y2="195.40" stroke="#333" stroke-width="0.8" />
<line x1="585.45" y1="16.50" x2="585.45" y2="18.50" stroke="#333" stroke-width="0.8" />
<line x1="587.61" y1="197.40" x2="587.61" y2="195.40" stroke="#333" stroke-width="0.8" />
<line x1="587.61" y1="16.50" x2="587.61" y2="18.50" stroke="#333" stroke-width="0.8" />
<text x="548.80" y="210.60" font-size="8.4" text-anchor="middle" textLength="8.34" lengthAdjust="spacingAndGlyphs" >10</text>
<line x1="589.55" y1="197.40" x2="589.55" y2="193.80" stroke="#333" stroke-width="0.8" />
<line x1="589.55" y1="16.50" x2="589.55" y2="20.10" stroke="#333" stroke-width="0.8" />
<line x1="602.30" y1="197.40" x2="602.30" y2="195.40" stroke="#333" stroke-width="0.8" />
<line x1="602.30" y1="16.50" x2="602.30" y2="18.50" stroke="#333" stroke-width="0.8" />
<line x1="609.76" y1="197.40" x2="609.76" y2="195.40" stroke="#333" stroke-width="0.8" />
<line x1="609.76" y1="16.50" x2="609.76" y2="18.50" stroke="#333" stroke-width="0.8" />
<text x="591.15" y="210.60" font-size="8.4" text-anchor="middle" textLength="12.51" lengthAdjust="spacingAndGlyphs" >100</text>
<line x1="377.80" y1="197.40" x2="381.40" y2="197.40" stroke="#333" stroke-width="0.8" />
<line x1="614.40" y1="197.40" x2="610.80" y2="197.40" stroke="#333" stroke-width="0.8" />
<line x1="377.80" y1="142.94" x2="379.80" y2="142.94" stroke="#333" stroke-width="0.8" />
<line x1="614.40" y1="142.94" x2="612.40" y2="142.94" stroke="#333" stroke-width="0.8" />
<line x1="377.80" y1="111.09" x2="379.80" y2="111.09" stroke="#333" stroke-width="0.8" />
<line x1="614.40" y1="111.09" x2="612.40" y2="111.09" stroke="#333" stroke-width="0.8" />
<line x1="377.80" y1="88.49" x2="379.80" y2="88.49" stroke="#333" stroke-width="0.8" />
<line x1="614.40" y1="88.49" x2="612.40" y2="88.49" stroke="#333" stroke-width="0.8" />
<line x1="377.80" y1="70.96" x2="379.80" y2="70.96" stroke="#333" stroke-width="0.8" />
<line x1="614.40" y1="70.96" x2="612.40" y2="70.96" stroke="#333" stroke-width="0.8" />
<line x1="377.80" y1="56.63" x2="379.80" y2="56.63" stroke="#333" stroke-width="0.8" />
<line x1="614.40" y1="56.63" x2="612.40" y2="56.63" stroke="#333" stroke-width="0.8" />
<line x1="377.80" y1="44.52" x2="379.80" y2="44.52" stroke="#333" stroke-width="0.8" />
<line x1="614.40" y1="44.52" x2="612.40" y2="44.52" stroke="#333" stroke-width="0.8" />
<line x1="377.80" y1="34.03" x2="379.80" y2="34.03" stroke="#333" stroke-width="0.8" />
<line x1="614.40" y1="34.03" x2="612.40" y2="34.03" stroke="#333" stroke-width="0.8" />
<line x1="377.80" y1="24.78" x2="379.80" y2="24.78" stroke="#333" stroke-width="0.8" />
<line x1="614.40" y1="24.78" x2="612.40" y2="24.78" stroke="#333" stroke-width="0.8" />
<text x="373.80" y="200.10" font-size="8.4" text-anchor="end" textLength="8.34" lengthAdjust="spacingAndGlyphs" >10</text>
<line x1="377.80" y1="16.50" x2="381.40" y2="16.50" stroke="#333" stroke-width="0.8" />
<line x1="614.40" y1="16.50" x2="610.80" y2="16.50" stroke="#333" stroke-width="0.8" />
<text x="373.80" y="19.20" font-size="8.4" text-anchor="end" textLength="12.51" lengthAdjust="spacingAndGlyphs" >100</text>
<rect x="377.8" y="16.5" width="236.59999999999997" height="180.9" fill="none" stroke="#2a2a2a" stroke-width="1"/>
<path d="M421.00 110.20h6M424.00 107.20v6M411.00 151.20h6M414.00 148.20v6M429.50 149.40h6M432.50 146.40v6M437.00 147.70h6M440.00 144.70v6M429.50 127.40h6M432.50 124.40v6M437.00 118.50h6M440.00 115.50v6M447.10 128.30h6M450.10 125.30v6M447.10 115.10h6M450.10 112.10v6M446.20 97.50h6M449.20 94.50v6M454.10 95.70h6M457.10 92.70v6M451.10 106.70h6M454.10 103.70v6M458.20 105.40h6M461.20 102.40v6M459.90 104.00h6M462.90 101.00v6M464.10 91.30h6M467.10 88.30v6M467.30 98.40h6M470.30 95.40v6M468.50 101.70h6M471.50 98.70v6M477.60 76.10h6M480.60 73.10v6M477.60 99.20h6M480.60 96.20v6M483.50 101.50h6M486.50 98.50v6M493.50 103.00h6M496.50 100.00v6M492.40 108.20h6M495.40 105.20v6M503.00 103.00h6M506.00 100.00v6M513.70 101.50h6M516.70 98.50v6M523.60 89.60h6M526.60 86.60v6M529.90 91.40h6M532.90 88.40v6M540.00 91.40h6M543.00 88.40v6M540.00 80.60h6M543.00 77.60v6M546.20 86.50h6M549.20 83.50v6M553.90 82.90h6M556.90 79.90v6M553.40 96.30h6M556.40 93.30v6M546.70 104.80h6M549.70 101.80v6M555.70 106.00h6M558.70 103.00v6M534.40 64.50h6M537.40 61.50v6M540.00 64.90h6M543.00 61.90v6M534.40 61.10h6M537.40 58.10v6M544.40 61.10h6M547.40 58.10v6M550.00 64.50h6M553.00 61.50v6M516.40 124.60h6M519.40 121.60v6M516.40 131.30h6M519.40 128.30v6M529.90 131.30h6M532.90 128.30v6M544.90 124.60h6M547.90 121.60v6M544.90 129.10h6M547.90 126.10v6M513.70 140.70h6M516.70 137.70v6M513.70 145.20h6M516.70 142.20v6M534.80 145.20h6M537.80 142.20v6M523.60 151.90h6M526.60 148.90v6M548.30 150.10h6M551.30 147.10v6M550.70 156.90h6M553.70 153.90v6M523.60 163.60h6M526.60 160.60v6M495.10 169.90h6M498.10 166.90v6M513.70 169.90h6M516.70 166.90v6M591.40 32.70h6M594.40 29.70v6M571.20 35.80h6M574.20 32.80v6M548.30 42.30h6M551.30 39.30v6M572.70 43.30h6M575.70 40.30v6M581.30 41.30h6M584.30 38.30v6M581.30 45.20h6M584.30 42.20v6M589.60 43.00h6M592.60 40.00v6M599.00 47.40h6M602.00 44.40v6M544.60 49.50h6M547.60 46.50v6M550.80 51.00h6M553.80 48.00v6M555.80 47.40h6M558.80 44.40v6M559.40 50.20h6M562.40 47.20v6M560.80 52.40h6M563.80 49.40v6M565.90 50.20h6M568.90 47.20v6M568.00 48.80h6M571.00 45.80v6M568.80 51.00h6M571.80 48.00v6M570.20 52.40h6M573.20 49.40v6M576.70 49.50h6M579.70 46.50v6M576.70 53.10h6M579.70 50.10v6M582.40 51.70h6M585.40 48.70v6M582.40 54.60h6M585.40 51.60v6M587.50 48.10h6M590.50 45.10v6M587.50 53.10h6M590.50 50.10v6M574.50 51.70h6M577.50 48.70v6M563.70 54.60h6M566.70 51.60v6M558.70 57.40h6M561.70 54.40v6M555.80 58.60h6M558.80 55.60v6M552.90 59.60h6M555.90 56.60v6M562.30 60.30h6M565.30 57.30v6M549.80 64.60h6M552.80 61.60v6M550.80 65.80h6M553.80 62.80v6M572.70 62.50h6M575.70 59.50v6M572.70 64.40h6M575.70 61.40v6M577.70 67.80h6M580.70 64.80v6M585.30 63.20h6M588.30 60.20v6M560.80 75.20h6M563.80 72.20v6M565.20 78.00h6M568.20 75.00v6M569.50 82.20h6M572.50 79.20v6M539.70 80.50h6M542.70 77.50v6M554.40 82.90h6M557.40 79.90v6M545.70 86.20h6M548.70 83.20v6M564.20 85.50h6M567.20 82.50v6M552.90 96.30h6M555.90 93.30v6M560.80 93.70h6M563.80 90.70v6M570.90 93.70h6M573.90 90.70v6M582.90 97.50h6M585.90 94.50v6M546.40 105.00h6M549.40 102.00v6M556.50 104.20h6M559.50 101.20v6M555.80 107.10h6M558.80 104.10v6M561.00 119.50h6M564.00 116.50v6" stroke="#9400d3" stroke-width="0.9" fill="none"/>
<text x="496.35" y="5.70" font-size="8.4" text-anchor="middle" textLength="211.10" lengthAdjust="spacingAndGlyphs" >Prediction Precision vs. Alignment Quality (target=human)</text>
<text x="496.35" y="223.90" font-size="8.4" text-anchor="middle" textLength="231.10" lengthAdjust="spacingAndGlyphs" >(NAF threshold) * (mean degree of induced CCS) * (EC of CCS)</text>
<text transform="translate(351.9,106.8) rotate(-90)" font-size="8.4" text-anchor="middle" textLength="109.5" lengthAdjust="spacingAndGlyphs">Prediction Precision (percent)</text>
<line x1="25.70" y1="406.50" x2="25.70" y2="403.50" stroke="#333" stroke-width="0.8" />
<line x1="25.70" y1="266.45" x2="25.70" y2="269.45" stroke="#333" stroke-width="0.8" />
<text x="27.10" y="417.90" font-size="7.9" text-anchor="middle" textLength="4.17" lengthAdjust="spacingAndGlyphs" >0</text>
<line x1="44.08" y1="406.50" x2="44.08" y2="403.50" stroke="#333" stroke-width="0.8" />
<line x1="44.08" y1="266.45" x2="44.08" y2="269.45" stroke="#333" stroke-width="0.8" />
<text x="45.48" y="417.90" font-size="7.9" text-anchor="middle" textLength="10.43" lengthAdjust="spacingAndGlyphs" >0.1</text>
<line x1="62.46" y1="406.50" x2="62.46" y2="403.50" stroke="#333" stroke-width="0.8" />
<line x1="62.46" y1="266.45" x2="62.46" y2="269.45" stroke="#333" stroke-width="0.8" />
<text x="63.86" y="417.90" font-size="7.9" text-anchor="middle" textLength="10.43" lengthAdjust="spacingAndGlyphs" >0.2</text>
<line x1="80.84" y1="406.50" x2="80.84" y2="403.50" stroke="#333" stroke-width="0.8" />
<line x1="80.84" y1="266.45" x2="80.84" y2="269.45" stroke="#333" stroke-width="0.8" />
<text x="82.24" y="417.90" font-size="7.9" text-anchor="middle" textLength="10.43" lengthAdjust="spacingAndGlyphs" >0.3</text>
<line x1="99.22" y1="406.50" x2="99.22" y2="403.50" stroke="#333" stroke-width="0.8" />
<line x1="99.22" y1="266.45" x2="99.22" y2="269.45" stroke="#333" stroke-width="0.8" />
<text x="100.62" y="417.90" font-size="7.9" text-anchor="middle" textLength="10.43" lengthAdjust="spacingAndGlyphs" >0.4</text>
<line x1="117.60" y1="406.50" x2="117.60" y2="403.50" stroke="#333" stroke-width="0.8" />
<line x1="117.60" y1="266.45" x2="117.60" y2="269.45" stroke="#333" stroke-width="0.8" />
<text x="119.00" y="417.90" font-size="7.9" text-anchor="middle" textLength="10.43" lengthAdjust="spacingAndGlyphs" >0.5</text>
<line x1="135.98" y1="406.50" x2="135.98" y2="403.50" stroke="#333" stroke-width="0.8" />
<line x1="135.98" y1="266.45" x2="135.98" y2="269.45" stroke="#333" stroke-width="0.8" />
<text x="137.38" y="417.90" font-size="7.9" text-anchor="middle" textLength="10.43" lengthAdjust="spacingAndGlyphs" >0.6</text>
<line x1="154.36" y1="406.50" x2="154.36" y2="403.50" stroke="#333" stroke-width="0.8" />
<line x1="154.36" y1="266.45" x2="154.36" y2="269.45" stroke="#333" stroke-width="0.8" />
<text x="155.76" y="417.90" font-size="7.9" text-anchor="middle" textLength="10.43" lengthAdjust="spacingAndGlyphs" >0.7</text>
<line x1="172.74" y1="406.50" x2="172.74" y2="403.50" stroke="#333" stroke-width="0.8" />
<line x1="172.74" y1="266.45" x2="172.74" y2="269.45" stroke="#333" stroke-width="0.8" />
<text x="174.14" y="417.90" font-size="7.9" text-anchor="middle" textLength="10.43" lengthAdjust="spacingAndGlyphs" >0.8</text>
<line x1="191.12" y1="406.50" x2="191.12" y2="403.50" stroke="#333" stroke-width="0.8" />
<line x1="191.12" y1="266.45" x2="191.12" y2="269.45" stroke="#333" stroke-width="0.8" />
<text x="192.52" y="417.90" font-size="7.9" text-anchor="middle" textLength="10.43" lengthAdjust="spacingAndGlyphs" >0.9</text>
<line x1="209.50" y1="406.50" x2="209.50" y2="403.50" stroke="#333" stroke-width="0.8" />
<line x1="209.50" y1="266.45" x2="209.50" y2="269.45" stroke="#333" stroke-width="0.8" />
<text x="210.90" y="417.90" font-size="7.9" text-anchor="middle" textLength="4.17" lengthAdjust="spacingAndGlyphs" >1</text>
<line x1="25.70" y1="406.50" x2="28.70" y2="406.50" stroke="#333" stroke-width="0.8" />
<line x1="209.50" y1="406.50" x2="206.50" y2="406.50" stroke="#333" stroke-width="0.8" />
<text x="22.40" y="409.70" font-size="7.9" text-anchor="end" textLength="10.43" lengthAdjust="spacingAndGlyphs" >0.1</text>
<line x1="25.70" y1="390.94" x2="28.70" y2="390.94" stroke="#333" stroke-width="0.8" />
<line x1="209.50" y1="390.94" x2="206.50" y2="390.94" stroke="#333" stroke-width="0.8" />
<text x="22.40" y="394.14" font-size="7.9" text-anchor="end" textLength="10.43" lengthAdjust="spacingAndGlyphs" >0.2</text>
<line x1="25.70" y1="375.38" x2="28.70" y2="375.38" stroke="#333" stroke-width="0.8" />
<line x1="209.50" y1="375.38" x2="206.50" y2="375.38" stroke="#333" stroke-width="0.8" />
<text x="22.40" y="378.58" font-size="7.9" text-anchor="end" textLength="10.43" lengthAdjust="spacingAndGlyphs" >0.3</text>
<line x1="25.70" y1="359.82" x2="28.70" y2="359.82" stroke="#333" stroke-width="0.8" />
<line x1="209.50" y1="359.82" x2="206.50" y2="359.82" stroke="#333" stroke-width="0.8" />
<text x="22.40" y="363.02" font-size="7.9" text-anchor="end" textLength="10.43" lengthAdjust="spacingAndGlyphs" >0.4</text>
<line x1="25.70" y1="344.26" x2="28.70" y2="344.26" stroke="#333" stroke-width="0.8" />
<line x1="209.50" y1="344.26" x2="206.50" y2="344.26" stroke="#333" stroke-width="0.8" />
<text x="22.40" y="347.46" font-size="7.9" text-anchor="end" textLength="10.43" lengthAdjust="spacingAndGlyphs" >0.5</text>
<line x1="25.70" y1="328.69" x2="28.70" y2="328.69" stroke="#333" stroke-width="0.8" />
<line x1="209.50" y1="328.69" x2="206.50" y2="328.69" stroke="#333" stroke-width="0.8" />
<text x="22.40" y="331.89" font-size="7.9" text-anchor="end" textLength="10.43" lengthAdjust="spacingAndGlyphs" >0.6</text>
<line x1="25.70" y1="313.13" x2="28.70" y2="313.13" stroke="#333" stroke-width="0.8" />
<line x1="209.50" y1="313.13" x2="206.50" y2="313.13" stroke="#333" stroke-width="0.8" />
<text x="22.40" y="316.33" font-size="7.9" text-anchor="end" textLength="10.43" lengthAdjust="spacingAndGlyphs" >0.7</text>
<line x1="25.70" y1="297.57" x2="28.70" y2="297.57" stroke="#333" stroke-width="0.8" />
<line x1="209.50" y1="297.57" x2="206.50" y2="297.57" stroke="#333" stroke-width="0.8" />
<text x="22.40" y="300.77" font-size="7.9" text-anchor="end" textLength="10.43" lengthAdjust="spacingAndGlyphs" >0.8</text>
<line x1="25.70" y1="282.01" x2="28.70" y2="282.01" stroke="#333" stroke-width="0.8" />
<line x1="209.50" y1="282.01" x2="206.50" y2="282.01" stroke="#333" stroke-width="0.8" />
<text x="22.40" y="285.21" font-size="7.9" text-anchor="end" textLength="10.43" lengthAdjust="spacingAndGlyphs" >0.9</text>
<line x1="25.70" y1="266.45" x2="28.70" y2="266.45" stroke="#333" stroke-width="0.8" />
<line x1="209.50" y1="266.45" x2="206.50" y2="266.45" stroke="#333" stroke-width="0.8" />
<text x="22.40" y="269.65" font-size="7.9" text-anchor="end" textLength="4.17" lengthAdjust="spacingAndGlyphs" >1</text>
<clipPath id="c1"><rect x="25.7" y="266.45" width="183.8" height="140.05"/></clipPath>
<g clip-path="url(#c1)">
<path d="M25.70 274.23 L25.88 332.27 L44.45 317.18 L51.43 320.76 L60.99 324.18 L79.37 329.01 L94.63 331.81 L112.45 340.52 L131.75 375.07 L209.50 391.25" stroke="#9400d3" stroke-width="0.9" fill="none" stroke-linejoin="round" transform="translate(0.3,0.6)"/>
<path d="M25.70 313.13 L40.40 321.38 L47.02 322.31 L60.99 324.49 L79.37 328.69 L94.63 331.50 L112.45 340.21 L131.75 375.07 L209.50 391.25" stroke="#009e73" stroke-width="0.9" fill="none" stroke-linejoin="round"/>
<path d="M25.70 306.60 L26.80 313.13 L60.99 335.85 L79.37 349.70 L106.20 376.47 L117.60 378.80 L209.50 395.14" stroke="#56b4e9" stroke-width="0.9" fill="none" stroke-linejoin="round"/>
<path d="M26.07 338.81 L27.54 340.99 L30.66 342.70 L31.95 345.81 L35.44 347.06 L41.51 349.24 L43.71 353.28 L46.65 351.41 L51.98 350.17 L59.89 351.10 L66.87 353.28 L131.75 375.22 L209.50 400.28" stroke="#e69f00" stroke-width="0.9" fill="none" stroke-linejoin="round"/>
<path d="M26.07 353.59 L27.35 359.82 L30.11 345.81 L31.03 343.17 L32.87 345.34 L34.52 347.99 L42.43 348.30 L47.76 351.88 L51.06 358.88 L117.60 378.96 L209.50 405.57" stroke="#f0e442" stroke-width="0.9" fill="none" stroke-linejoin="round"/>
</g>
<rect x="25.7" y="266.45" width="183.8" height="140.05" fill="none" stroke="#2a2a2a" stroke-width="1"/>
<text x="176.50" y="277.10" font-size="7.9" text-anchor="end" textLength="68.10" lengthAdjust="spacingAndGlyphs" >"0.399,CE−HS,s3,IPI"</text>
<line x1="183.00" y1="274.50" x2="201.80" y2="274.50" stroke="#9400d3" stroke-width="0.8" />
<text x="176.50" y="285.10" font-size="7.9" text-anchor="end" textLength="98.20" lengthAdjust="spacingAndGlyphs" >"0.396,CE−HS,importance,IPI"</text>
<line x1="183.00" y1="282.50" x2="201.80" y2="282.50" stroke="#009e73" stroke-width="0.8" />
<text x="176.50" y="294.10" font-size="7.9" text-anchor="end" textLength="67.40" lengthAdjust="spacingAndGlyphs" >"0.304,CE−HS,ec,IPI"</text>
<line x1="183.00" y1="291.50" x2="201.80" y2="291.50" stroke="#56b4e9" stroke-width="0.8" />
<text x="176.50" y="302.10" font-size="7.9" text-anchor="end" textLength="79.10" lengthAdjust="spacingAndGlyphs" >"0.204,CE−HS,lgraal,IPI"</text>
<line x1="183.00" y1="299.50" x2="201.80" y2="299.50" stroke="#e69f00" stroke-width="0.8" />
<text x="176.50" y="311.10" font-size="7.9" text-anchor="end" textLength="88.20" lengthAdjust="spacingAndGlyphs" >"0.154,CE−HS,graphlet,IPI"</text>
<line x1="183.00" y1="308.50" x2="201.80" y2="308.50" stroke="#f0e442" stroke-width="0.8" />
<text x="118.30" y="256.55" font-size="7.9" text-anchor="middle" textLength="189.45" lengthAdjust="spacingAndGlyphs" >Precision−Recall of GO term predictions, worm to human</text>
<text x="118.30" y="430.80" font-size="8.0" text-anchor="middle" textLength="19.60" lengthAdjust="spacingAndGlyphs" >Recall</text>
<text transform="translate(4.899999999999999,336.5) rotate(-90)" font-size="7.9" text-anchor="middle" textLength="29.4" lengthAdjust="spacingAndGlyphs">Precision</text>
<line x1="258.40" y1="406.50" x2="258.40" y2="403.50" stroke="#333" stroke-width="0.8" />
<line x1="258.40" y1="266.45" x2="258.40" y2="269.45" stroke="#333" stroke-width="0.8" />
<text x="259.80" y="417.90" font-size="7.9" text-anchor="middle" textLength="4.17" lengthAdjust="spacingAndGlyphs" >0</text>
<line x1="295.20" y1="406.50" x2="295.20" y2="403.50" stroke="#333" stroke-width="0.8" />
<line x1="295.20" y1="266.45" x2="295.20" y2="269.45" stroke="#333" stroke-width="0.8" />
<text x="296.60" y="417.90" font-size="7.9" text-anchor="middle" textLength="10.43" lengthAdjust="spacingAndGlyphs" >0.2</text>
<line x1="332.00" y1="406.50" x2="332.00" y2="403.50" stroke="#333" stroke-width="0.8" />
<line x1="332.00" y1="266.45" x2="332.00" y2="269.45" stroke="#333" stroke-width="0.8" />
<text x="333.40" y="417.90" font-size="7.9" text-anchor="middle" textLength="10.43" lengthAdjust="spacingAndGlyphs" >0.4</text>
<line x1="368.80" y1="406.50" x2="368.80" y2="403.50" stroke="#333" stroke-width="0.8" />
<line x1="368.80" y1="266.45" x2="368.80" y2="269.45" stroke="#333" stroke-width="0.8" />
<text x="370.20" y="417.90" font-size="7.9" text-anchor="middle" textLength="10.43" lengthAdjust="spacingAndGlyphs" >0.6</text>
<line x1="405.60" y1="406.50" x2="405.60" y2="403.50" stroke="#333" stroke-width="0.8" />
<line x1="405.60" y1="266.45" x2="405.60" y2="269.45" stroke="#333" stroke-width="0.8" />
<text x="407.00" y="417.90" font-size="7.9" text-anchor="middle" textLength="10.43" lengthAdjust="spacingAndGlyphs" >0.8</text>
<line x1="442.40" y1="406.50" x2="442.40" y2="403.50" stroke="#333" stroke-width="0.8" />
<line x1="442.40" y1="266.45" x2="442.40" y2="269.45" stroke="#333" stroke-width="0.8" />
<text x="443.80" y="417.90" font-size="7.9" text-anchor="middle" textLength="4.17" lengthAdjust="spacingAndGlyphs" >1</text>
<line x1="258.40" y1="406.50" x2="261.40" y2="406.50" stroke="#333" stroke-width="0.8" />
<line x1="442.40" y1="406.50" x2="439.40" y2="406.50" stroke="#333" stroke-width="0.8" />
<text x="255.10" y="409.70" font-size="7.9" text-anchor="end" textLength="4.17" lengthAdjust="spacingAndGlyphs" >0</text>
<line x1="258.40" y1="386.49" x2="261.40" y2="386.49" stroke="#333" stroke-width="0.8" />
<line x1="442.40" y1="386.49" x2="439.40" y2="386.49" stroke="#333" stroke-width="0.8" />
<text x="255.10" y="389.69" font-size="7.9" text-anchor="end" textLength="10.43" lengthAdjust="spacingAndGlyphs" >0.1</text>
<line x1="258.40" y1="366.49" x2="261.40" y2="366.49" stroke="#333" stroke-width="0.8" />
<line x1="442.40" y1="366.49" x2="439.40" y2="366.49" stroke="#333" stroke-width="0.8" />
<text x="255.10" y="369.69" font-size="7.9" text-anchor="end" textLength="10.43" lengthAdjust="spacingAndGlyphs" >0.2</text>
<line x1="258.40" y1="346.48" x2="261.40" y2="346.48" stroke="#333" stroke-width="0.8" />
<line x1="442.40" y1="346.48" x2="439.40" y2="346.48" stroke="#333" stroke-width="0.8" />
<text x="255.10" y="349.68" font-size="7.9" text-anchor="end" textLength="10.43" lengthAdjust="spacingAndGlyphs" >0.3</text>
<line x1="258.40" y1="326.47" x2="261.40" y2="326.47" stroke="#333" stroke-width="0.8" />
<line x1="442.40" y1="326.47" x2="439.40" y2="326.47" stroke="#333" stroke-width="0.8" />
<text x="255.10" y="329.67" font-size="7.9" text-anchor="end" textLength="10.43" lengthAdjust="spacingAndGlyphs" >0.4</text>
<line x1="258.40" y1="306.46" x2="261.40" y2="306.46" stroke="#333" stroke-width="0.8" />
<line x1="442.40" y1="306.46" x2="439.40" y2="306.46" stroke="#333" stroke-width="0.8" />
<text x="255.10" y="309.66" font-size="7.9" text-anchor="end" textLength="10.43" lengthAdjust="spacingAndGlyphs" >0.5</text>
<line x1="258.40" y1="286.46" x2="261.40" y2="286.46" stroke="#333" stroke-width="0.8" />
<line x1="442.40" y1="286.46" x2="439.40" y2="286.46" stroke="#333" stroke-width="0.8" />
<text x="255.10" y="289.66" font-size="7.9" text-anchor="end" textLength="10.43" lengthAdjust="spacingAndGlyphs" >0.6</text>
<line x1="258.40" y1="266.45" x2="261.40" y2="266.45" stroke="#333" stroke-width="0.8" />
<line x1="442.40" y1="266.45" x2="439.40" y2="266.45" stroke="#333" stroke-width="0.8" />
<text x="255.10" y="269.65" font-size="7.9" text-anchor="end" textLength="10.43" lengthAdjust="spacingAndGlyphs" >0.7</text>
<clipPath id="c2"><rect x="258.4" y="266.45" width="184.0" height="140.05"/></clipPath>
<g clip-path="url(#c2)">
<path d="M258.40 334.47 L260.42 271.45 L310.10 285.66 L314.89 289.66 L318.20 344.08 L325.74 391.29 L442.40 394.10" stroke="#9400d3" stroke-width="0.9" fill="none" stroke-linejoin="round" transform="translate(0.3,0.6)"/>
<path d="M258.40 406.50 L261.16 278.45 L282.87 284.06 L313.23 288.46 L315.44 290.86 L319.12 346.48 L326.85 392.29 L442.40 394.10" stroke="#009e73" stroke-width="0.9" fill="none" stroke-linejoin="round"/>
<path d="M258.40 386.49 L261.16 277.45 L282.87 283.66 L312.86 288.06 L315.44 290.46 L319.12 346.48 L327.03 391.89 L442.40 393.90" stroke="#56b4e9" stroke-width="0.9" fill="none" stroke-linejoin="round"/>
<path d="M258.40 334.07 L259.87 327.67 L262.63 329.27 L264.84 328.47 L267.05 327.67 L270.73 330.27 L282.14 334.07 L288.02 339.28 L292.26 345.68 L295.75 353.48 L442.40 383.09" stroke="#e69f00" stroke-width="0.9" fill="none" stroke-linejoin="round"/>
<path d="M258.40 348.48 L262.08 339.88 L265.58 331.07 L266.31 334.07 L270.73 334.07 L278.46 341.08 L285.08 342.88 L292.26 353.48 L295.20 354.28 L442.40 384.49" stroke="#f0e442" stroke-width="0.9" fill="none" stroke-linejoin="round"/>
</g>
<rect x="258.4" y="266.45" width="184.0" height="140.05" fill="none" stroke="#2a2a2a" stroke-width="1"/>
<text x="409.40" y="277.10" font-size="7.9" text-anchor="end" textLength="70.10" lengthAdjust="spacingAndGlyphs" >"0.243,DM−HS,ec,IPI"</text>
<line x1="415.90" y1="274.50" x2="434.70" y2="274.50" stroke="#9400d3" stroke-width="0.8" />
<text x="409.40" y="285.10" font-size="7.9" text-anchor="end" textLength="100.10" lengthAdjust="spacingAndGlyphs" >"0.236,DM−HS,importance,IPI"</text>
<line x1="415.90" y1="282.50" x2="434.70" y2="282.50" stroke="#009e73" stroke-width="0.8" />
<text x="409.40" y="294.10" font-size="7.9" text-anchor="end" textLength="70.10" lengthAdjust="spacingAndGlyphs" >"0.234,DM−HS,s3,IPI"</text>
<line x1="415.90" y1="291.50" x2="434.70" y2="291.50" stroke="#56b4e9" stroke-width="0.8" />
<text x="409.40" y="302.10" font-size="7.9" text-anchor="end" textLength="90.50" lengthAdjust="spacingAndGlyphs" >"0.164,DM−HS,graphlet,IPI"</text>
<line x1="415.90" y1="299.50" x2="434.70" y2="299.50" stroke="#e69f00" stroke-width="0.8" />
<text x="409.40" y="311.10" font-size="7.9" text-anchor="end" textLength="81.70" lengthAdjust="spacingAndGlyphs" >"0.148,DM−HS,lgraal,IPI"</text>
<line x1="415.90" y1="308.50" x2="434.70" y2="308.50" stroke="#f0e442" stroke-width="0.8" />
<text x="351.10" y="256.55" font-size="7.9" text-anchor="middle" textLength="178.62" lengthAdjust="spacingAndGlyphs" >Precision−Recall of GO term predictions, fly to human</text>
<text x="351.10" y="430.80" font-size="8.0" text-anchor="middle" textLength="19.60" lengthAdjust="spacingAndGlyphs" >Recall</text>
<text transform="translate(237.59999999999997,336.5) rotate(-90)" font-size="7.9" text-anchor="middle" textLength="29.4" lengthAdjust="spacingAndGlyphs">Precision</text>
<line x1="490.90" y1="406.50" x2="490.90" y2="403.50" stroke="#333" stroke-width="0.8" />
<line x1="490.90" y1="266.45" x2="490.90" y2="269.45" stroke="#333" stroke-width="0.8" />
<text x="492.30" y="417.90" font-size="7.9" text-anchor="middle" textLength="4.17" lengthAdjust="spacingAndGlyphs" >0</text>
<line x1="509.26" y1="406.50" x2="509.26" y2="403.50" stroke="#333" stroke-width="0.8" />
<line x1="509.26" y1="266.45" x2="509.26" y2="269.45" stroke="#333" stroke-width="0.8" />
<text x="510.66" y="417.90" font-size="7.9" text-anchor="middle" textLength="10.43" lengthAdjust="spacingAndGlyphs" >0.1</text>
<line x1="527.62" y1="406.50" x2="527.62" y2="403.50" stroke="#333" stroke-width="0.8" />
<line x1="527.62" y1="266.45" x2="527.62" y2="269.45" stroke="#333" stroke-width="0.8" />
<text x="529.02" y="417.90" font-size="7.9" text-anchor="middle" textLength="10.43" lengthAdjust="spacingAndGlyphs" >0.2</text>
<line x1="545.98" y1="406.50" x2="545.98" y2="403.50" stroke="#333" stroke-width="0.8" />
<line x1="545.98" y1="266.45" x2="545.98" y2="269.45" stroke="#333" stroke-width="0.8" />
<text x="547.38" y="417.90" font-size="7.9" text-anchor="middle" textLength="10.43" lengthAdjust="spacingAndGlyphs" >0.3</text>
<line x1="564.34" y1="406.50" x2="564.34" y2="403.50" stroke="#333" stroke-width="0.8" />
<line x1="564.34" y1="266.45" x2="564.34" y2="269.45" stroke="#333" stroke-width="0.8" />
<text x="565.74" y="417.90" font-size="7.9" text-anchor="middle" textLength="10.43" lengthAdjust="spacingAndGlyphs" >0.4</text>
<line x1="582.70" y1="406.50" x2="582.70" y2="403.50" stroke="#333" stroke-width="0.8" />
<line x1="582.70" y1="266.45" x2="582.70" y2="269.45" stroke="#333" stroke-width="0.8" />
<text x="584.10" y="417.90" font-size="7.9" text-anchor="middle" textLength="10.43" lengthAdjust="spacingAndGlyphs" >0.5</text>
<line x1="601.06" y1="406.50" x2="601.06" y2="403.50" stroke="#333" stroke-width="0.8" />
<line x1="601.06" y1="266.45" x2="601.06" y2="269.45" stroke="#333" stroke-width="0.8" />
<text x="602.46" y="417.90" font-size="7.9" text-anchor="middle" textLength="10.43" lengthAdjust="spacingAndGlyphs" >0.6</text>
<line x1="619.42" y1="406.50" x2="619.42" y2="403.50" stroke="#333" stroke-width="0.8" />
<line x1="619.42" y1="266.45" x2="619.42" y2="269.45" stroke="#333" stroke-width="0.8" />
<text x="620.82" y="417.90" font-size="7.9" text-anchor="middle" textLength="10.43" lengthAdjust="spacingAndGlyphs" >0.7</text>
<line x1="637.78" y1="406.50" x2="637.78" y2="403.50" stroke="#333" stroke-width="0.8" />
<line x1="637.78" y1="266.45" x2="637.78" y2="269.45" stroke="#333" stroke-width="0.8" />
<text x="639.18" y="417.90" font-size="7.9" text-anchor="middle" textLength="10.43" lengthAdjust="spacingAndGlyphs" >0.8</text>
<line x1="656.14" y1="406.50" x2="656.14" y2="403.50" stroke="#333" stroke-width="0.8" />
<line x1="656.14" y1="266.45" x2="656.14" y2="269.45" stroke="#333" stroke-width="0.8" />
<text x="657.54" y="417.90" font-size="7.9" text-anchor="middle" textLength="10.43" lengthAdjust="spacingAndGlyphs" >0.9</text>
<line x1="674.50" y1="406.50" x2="674.50" y2="403.50" stroke="#333" stroke-width="0.8" />
<line x1="674.50" y1="266.45" x2="674.50" y2="269.45" stroke="#333" stroke-width="0.8" />
<text x="675.90" y="417.90" font-size="7.9" text-anchor="middle" textLength="4.17" lengthAdjust="spacingAndGlyphs" >1</text>
<line x1="490.90" y1="406.50" x2="493.90" y2="406.50" stroke="#333" stroke-width="0.8" />
<line x1="674.50" y1="406.50" x2="671.50" y2="406.50" stroke="#333" stroke-width="0.8" />
<text x="487.60" y="409.70" font-size="7.9" text-anchor="end" textLength="4.17" lengthAdjust="spacingAndGlyphs" >0</text>
<line x1="490.90" y1="392.50" x2="493.90" y2="392.50" stroke="#333" stroke-width="0.8" />
<line x1="674.50" y1="392.50" x2="671.50" y2="392.50" stroke="#333" stroke-width="0.8" />
<text x="487.60" y="395.69" font-size="7.9" text-anchor="end" textLength="10.43" lengthAdjust="spacingAndGlyphs" >0.1</text>
<line x1="490.90" y1="378.49" x2="493.90" y2="378.49" stroke="#333" stroke-width="0.8" />
<line x1="674.50" y1="378.49" x2="671.50" y2="378.49" stroke="#333" stroke-width="0.8" />
<text x="487.60" y="381.69" font-size="7.9" text-anchor="end" textLength="10.43" lengthAdjust="spacingAndGlyphs" >0.2</text>
<line x1="490.90" y1="364.49" x2="493.90" y2="364.49" stroke="#333" stroke-width="0.8" />
<line x1="674.50" y1="364.49" x2="671.50" y2="364.49" stroke="#333" stroke-width="0.8" />
<text x="487.60" y="367.69" font-size="7.9" text-anchor="end" textLength="10.43" lengthAdjust="spacingAndGlyphs" >0.3</text>
<line x1="490.90" y1="350.48" x2="493.90" y2="350.48" stroke="#333" stroke-width="0.8" />
<line x1="674.50" y1="350.48" x2="671.50" y2="350.48" stroke="#333" stroke-width="0.8" />
<text x="487.60" y="353.68" font-size="7.9" text-anchor="end" textLength="10.43" lengthAdjust="spacingAndGlyphs" >0.4</text>
<line x1="490.90" y1="336.48" x2="493.90" y2="336.48" stroke="#333" stroke-width="0.8" />
<line x1="674.50" y1="336.48" x2="671.50" y2="336.48" stroke="#333" stroke-width="0.8" />
<text x="487.60" y="339.68" font-size="7.9" text-anchor="end" textLength="10.43" lengthAdjust="spacingAndGlyphs" >0.5</text>
<line x1="490.90" y1="322.47" x2="493.90" y2="322.47" stroke="#333" stroke-width="0.8" />
<line x1="674.50" y1="322.47" x2="671.50" y2="322.47" stroke="#333" stroke-width="0.8" />
<text x="487.60" y="325.67" font-size="7.9" text-anchor="end" textLength="10.43" lengthAdjust="spacingAndGlyphs" >0.6</text>
<line x1="490.90" y1="308.46" x2="493.90" y2="308.46" stroke="#333" stroke-width="0.8" />
<line x1="674.50" y1="308.46" x2="671.50" y2="308.46" stroke="#333" stroke-width="0.8" />
<text x="487.60" y="311.66" font-size="7.9" text-anchor="end" textLength="10.43" lengthAdjust="spacingAndGlyphs" >0.7</text>
<line x1="490.90" y1="294.46" x2="493.90" y2="294.46" stroke="#333" stroke-width="0.8" />
<line x1="674.50" y1="294.46" x2="671.50" y2="294.46" stroke="#333" stroke-width="0.8" />
<text x="487.60" y="297.66" font-size="7.9" text-anchor="end" textLength="10.43" lengthAdjust="spacingAndGlyphs" >0.8</text>
<line x1="490.90" y1="280.45" x2="493.90" y2="280.45" stroke="#333" stroke-width="0.8" />
<line x1="674.50" y1="280.45" x2="671.50" y2="280.45" stroke="#333" stroke-width="0.8" />
<text x="487.60" y="283.65" font-size="7.9" text-anchor="end" textLength="10.43" lengthAdjust="spacingAndGlyphs" >0.9</text>
<line x1="490.90" y1="266.45" x2="493.90" y2="266.45" stroke="#333" stroke-width="0.8" />
<line x1="674.50" y1="266.45" x2="671.50" y2="266.45" stroke="#333" stroke-width="0.8" />
<text x="487.60" y="269.65" font-size="7.9" text-anchor="end" textLength="4.17" lengthAdjust="spacingAndGlyphs" >1</text>
<clipPath id="c3"><rect x="490.9" y="266.45" width="183.60000000000002" height="140.05"/></clipPath>
<g clip-path="url(#c3)">
<path d="M490.90 310.15 L493.65 318.41 L499.35 320.37 L510.36 323.87 L521.93 326.39 L538.64 338.16 L550.57 354.12 L566.18 386.47 L674.50 392.50" stroke="#9400d3" stroke-width="0.9" fill="none" stroke-linejoin="round" transform="translate(0.3,0.6)"/>
<path d="M490.90 311.41 L493.29 324.43 L507.06 324.43 L521.19 326.81 L527.99 331.29 L538.64 338.58 L550.57 355.38 L566.18 387.17 L674.50 392.50" stroke="#009e73" stroke-width="0.9" fill="none" stroke-linejoin="round"/>
<path d="M490.90 269.81 L491.63 310.15 L493.84 307.20 L500.08 326.11 L510.36 341.52 L549.28 388.99 L674.50 394.32" stroke="#56b4e9" stroke-width="0.9" fill="none" stroke-linejoin="round"/>
<path d="M492.00 361.26 L494.02 360.28 L496.41 357.62 L498.79 358.88 L502.83 354.12 L508.89 352.44 L517.15 352.86 L523.58 372.61 L674.50 392.35" stroke="#e69f00" stroke-width="0.9" fill="none" stroke-linejoin="round"/>
<path d="M492.00 343.34 L493.29 354.12 L495.49 352.86 L498.79 350.06 L501.73 352.86 L504.12 384.09 L674.50 399.50" stroke="#f0e442" stroke-width="0.9" fill="none" stroke-linejoin="round"/>
</g>
<rect x="490.9" y="266.45" width="183.60000000000002" height="140.05" fill="none" stroke="#2a2a2a" stroke-width="1"/>
<text x="641.50" y="277.10" font-size="7.9" text-anchor="end" textLength="68.50" lengthAdjust="spacingAndGlyphs" >"0.241,AT−HS,s3,IPI"</text>
<line x1="648.00" y1="274.50" x2="666.80" y2="274.50" stroke="#9400d3" stroke-width="0.8" />
<text x="641.50" y="285.10" font-size="7.9" text-anchor="end" textLength="97.70" lengthAdjust="spacingAndGlyphs" >"0.238,AT−HS,importance,IPI"</text>
<line x1="648.00" y1="282.50" x2="666.80" y2="282.50" stroke="#009e73" stroke-width="0.8" />
<text x="641.50" y="294.10" font-size="7.9" text-anchor="end" textLength="68.50" lengthAdjust="spacingAndGlyphs" >"0.170,AT−HS,ec,IPI"</text>
<line x1="648.00" y1="291.50" x2="666.80" y2="291.50" stroke="#56b4e9" stroke-width="0.8" />
<text x="641.50" y="302.10" font-size="7.9" text-anchor="end" textLength="79.30" lengthAdjust="spacingAndGlyphs" >"0.146,AT−HS,lgraal,IPI"</text>
<line x1="648.00" y1="299.50" x2="666.80" y2="299.50" stroke="#e69f00" stroke-width="0.8" />
<text x="641.50" y="311.10" font-size="7.9" text-anchor="end" textLength="88.50" lengthAdjust="spacingAndGlyphs" >"0.076,AT−HS,graphlet,IPI"</text>
<line x1="648.00" y1="308.50" x2="666.80" y2="308.50" stroke="#f0e442" stroke-width="0.8" />
<text x="583.40" y="256.55" font-size="7.9" text-anchor="middle" textLength="204.06" lengthAdjust="spacingAndGlyphs" >Precision−Recall of GO term predictions, A.thaliana to human</text>
<text x="583.40" y="430.80" font-size="8.0" text-anchor="middle" textLength="19.60" lengthAdjust="spacingAndGlyphs" >Recall</text>
<text transform="translate(470.09999999999997,336.5) rotate(-90)" font-size="7.9" text-anchor="middle" textLength="29.4" lengthAdjust="spacingAndGlyphs">Precision</text>
<line x1="25.70" y1="601.40" x2="25.70" y2="598.40" stroke="#333" stroke-width="0.8" />
<line x1="25.70" y1="461.10" x2="25.70" y2="464.10" stroke="#333" stroke-width="0.8" />
<text x="27.10" y="612.80" font-size="7.9" text-anchor="middle" textLength="4.17" lengthAdjust="spacingAndGlyphs" >0</text>
<line x1="44.08" y1="601.40" x2="44.08" y2="598.40" stroke="#333" stroke-width="0.8" />
<line x1="44.08" y1="461.10" x2="44.08" y2="464.10" stroke="#333" stroke-width="0.8" />
<text x="45.48" y="612.80" font-size="7.9" text-anchor="middle" textLength="10.43" lengthAdjust="spacingAndGlyphs" >0.1</text>
<line x1="62.46" y1="601.40" x2="62.46" y2="598.40" stroke="#333" stroke-width="0.8" />
<line x1="62.46" y1="461.10" x2="62.46" y2="464.10" stroke="#333" stroke-width="0.8" />
<text x="63.86" y="612.80" font-size="7.9" text-anchor="middle" textLength="10.43" lengthAdjust="spacingAndGlyphs" >0.2</text>
<line x1="80.84" y1="601.40" x2="80.84" y2="598.40" stroke="#333" stroke-width="0.8" />
<line x1="80.84" y1="461.10" x2="80.84" y2="464.10" stroke="#333" stroke-width="0.8" />
<text x="82.24" y="612.80" font-size="7.9" text-anchor="middle" textLength="10.43" lengthAdjust="spacingAndGlyphs" >0.3</text>
<line x1="99.22" y1="601.40" x2="99.22" y2="598.40" stroke="#333" stroke-width="0.8" />
<line x1="99.22" y1="461.10" x2="99.22" y2="464.10" stroke="#333" stroke-width="0.8" />
<text x="100.62" y="612.80" font-size="7.9" text-anchor="middle" textLength="10.43" lengthAdjust="spacingAndGlyphs" >0.4</text>
<line x1="117.60" y1="601.40" x2="117.60" y2="598.40" stroke="#333" stroke-width="0.8" />
<line x1="117.60" y1="461.10" x2="117.60" y2="464.10" stroke="#333" stroke-width="0.8" />
<text x="119.00" y="612.80" font-size="7.9" text-anchor="middle" textLength="10.43" lengthAdjust="spacingAndGlyphs" >0.5</text>
<line x1="135.98" y1="601.40" x2="135.98" y2="598.40" stroke="#333" stroke-width="0.8" />
<line x1="135.98" y1="461.10" x2="135.98" y2="464.10" stroke="#333" stroke-width="0.8" />
<text x="137.38" y="612.80" font-size="7.9" text-anchor="middle" textLength="10.43" lengthAdjust="spacingAndGlyphs" >0.6</text>
<line x1="154.36" y1="601.40" x2="154.36" y2="598.40" stroke="#333" stroke-width="0.8" />
<line x1="154.36" y1="461.10" x2="154.36" y2="464.10" stroke="#333" stroke-width="0.8" />
<text x="155.76" y="612.80" font-size="7.9" text-anchor="middle" textLength="10.43" lengthAdjust="spacingAndGlyphs" >0.7</text>
<line x1="172.74" y1="601.40" x2="172.74" y2="598.40" stroke="#333" stroke-width="0.8" />
<line x1="172.74" y1="461.10" x2="172.74" y2="464.10" stroke="#333" stroke-width="0.8" />
<text x="174.14" y="612.80" font-size="7.9" text-anchor="middle" textLength="10.43" lengthAdjust="spacingAndGlyphs" >0.8</text>
<line x1="191.12" y1="601.40" x2="191.12" y2="598.40" stroke="#333" stroke-width="0.8" />
<line x1="191.12" y1="461.10" x2="191.12" y2="464.10" stroke="#333" stroke-width="0.8" />
<text x="192.52" y="612.80" font-size="7.9" text-anchor="middle" textLength="10.43" lengthAdjust="spacingAndGlyphs" >0.9</text>
<line x1="209.50" y1="601.40" x2="209.50" y2="598.40" stroke="#333" stroke-width="0.8" />
<line x1="209.50" y1="461.10" x2="209.50" y2="464.10" stroke="#333" stroke-width="0.8" />
<text x="210.90" y="612.80" font-size="7.9" text-anchor="middle" textLength="4.17" lengthAdjust="spacingAndGlyphs" >1</text>
<line x1="25.70" y1="601.40" x2="28.70" y2="601.40" stroke="#333" stroke-width="0.8" />
<line x1="209.50" y1="601.40" x2="206.50" y2="601.40" stroke="#333" stroke-width="0.8" />
<text x="22.40" y="604.60" font-size="7.9" text-anchor="end" textLength="4.17" lengthAdjust="spacingAndGlyphs" >0</text>
<line x1="25.70" y1="587.37" x2="28.70" y2="587.37" stroke="#333" stroke-width="0.8" />
<line x1="209.50" y1="587.37" x2="206.50" y2="587.37" stroke="#333" stroke-width="0.8" />
<text x="22.40" y="590.57" font-size="7.9" text-anchor="end" textLength="10.43" lengthAdjust="spacingAndGlyphs" >0.1</text>
<line x1="25.70" y1="573.34" x2="28.70" y2="573.34" stroke="#333" stroke-width="0.8" />
<line x1="209.50" y1="573.34" x2="206.50" y2="573.34" stroke="#333" stroke-width="0.8" />
<text x="22.40" y="576.54" font-size="7.9" text-anchor="end" textLength="10.43" lengthAdjust="spacingAndGlyphs" >0.2</text>
<line x1="25.70" y1="559.31" x2="28.70" y2="559.31" stroke="#333" stroke-width="0.8" />
<line x1="209.50" y1="559.31" x2="206.50" y2="559.31" stroke="#333" stroke-width="0.8" />
<text x="22.40" y="562.51" font-size="7.9" text-anchor="end" textLength="10.43" lengthAdjust="spacingAndGlyphs" >0.3</text>
<line x1="25.70" y1="545.28" x2="28.70" y2="545.28" stroke="#333" stroke-width="0.8" />
<line x1="209.50" y1="545.28" x2="206.50" y2="545.28" stroke="#333" stroke-width="0.8" />
<text x="22.40" y="548.48" font-size="7.9" text-anchor="end" textLength="10.43" lengthAdjust="spacingAndGlyphs" >0.4</text>
<line x1="25.70" y1="531.25" x2="28.70" y2="531.25" stroke="#333" stroke-width="0.8" />
<line x1="209.50" y1="531.25" x2="206.50" y2="531.25" stroke="#333" stroke-width="0.8" />
<text x="22.40" y="534.45" font-size="7.9" text-anchor="end" textLength="10.43" lengthAdjust="spacingAndGlyphs" >0.5</text>
<line x1="25.70" y1="517.22" x2="28.70" y2="517.22" stroke="#333" stroke-width="0.8" />
<line x1="209.50" y1="517.22" x2="206.50" y2="517.22" stroke="#333" stroke-width="0.8" />
<text x="22.40" y="520.42" font-size="7.9" text-anchor="end" textLength="10.43" lengthAdjust="spacingAndGlyphs" >0.6</text>
<line x1="25.70" y1="503.19" x2="28.70" y2="503.19" stroke="#333" stroke-width="0.8" />
<line x1="209.50" y1="503.19" x2="206.50" y2="503.19" stroke="#333" stroke-width="0.8" />
<text x="22.40" y="506.39" font-size="7.9" text-anchor="end" textLength="10.43" lengthAdjust="spacingAndGlyphs" >0.7</text>
<line x1="25.70" y1="489.16" x2="28.70" y2="489.16" stroke="#333" stroke-width="0.8" />
<line x1="209.50" y1="489.16" x2="206.50" y2="489.16" stroke="#333" stroke-width="0.8" />
<text x="22.40" y="492.36" font-size="7.9" text-anchor="end" textLength="10.43" lengthAdjust="spacingAndGlyphs" >0.8</text>
<line x1="25.70" y1="475.13" x2="28.70" y2="475.13" stroke="#333" stroke-width="0.8" />
<line x1="209.50" y1="475.13" x2="206.50" y2="475.13" stroke="#333" stroke-width="0.8" />
<text x="22.40" y="478.33" font-size="7.9" text-anchor="end" textLength="10.43" lengthAdjust="spacingAndGlyphs" >0.9</text>
<line x1="25.70" y1="461.10" x2="28.70" y2="461.10" stroke="#333" stroke-width="0.8" />
<line x1="209.50" y1="461.10" x2="206.50" y2="461.10" stroke="#333" stroke-width="0.8" />
<text x="22.40" y="464.30" font-size="7.9" text-anchor="end" textLength="4.17" lengthAdjust="spacingAndGlyphs" >1</text>
<clipPath id="c4"><rect x="25.7" y="461.1" width="183.8" height="140.29999999999995"/></clipPath>
<g clip-path="url(#c4)">
<path d="M25.70 513.43 L29.38 509.50 L36.73 506.70 L46.65 513.99 L61.54 531.39 L74.77 553.70 L87.46 585.55 L209.50 589.61" stroke="#9400d3" stroke-width="0.9" fill="none" stroke-linejoin="round" transform="translate(0.3,0.6)"/>
<path d="M25.70 473.73 L26.07 510.20 L29.38 507.82 L36.73 506.42 L46.65 513.99 L61.54 531.39 L74.77 553.70 L87.46 585.55 L209.50 589.33" stroke="#009e73" stroke-width="0.9" fill="none" stroke-linejoin="round"/>
<path d="M25.70 480.32 L27.17 487.76 L30.48 499.40 L35.26 532.09 L41.87 549.49 L50.51 564.92 L59.15 575.44 L69.08 588.63 L209.50 592.00" stroke="#56b4e9" stroke-width="0.9" fill="none" stroke-linejoin="round"/>
<path d="M27.17 549.63 L27.91 553.56 L29.74 550.61 L31.77 552.44 L35.26 555.94 L38.01 554.68 L40.96 556.36 L49.59 567.03 L209.50 588.91" stroke="#e69f00" stroke-width="0.9" fill="none" stroke-linejoin="round"/>
<path d="M27.91 543.88 L29.38 554.40 L30.85 551.59 L32.87 550.61 L37.10 571.94 L209.50 594.81" stroke="#f0e442" stroke-width="0.9" fill="none" stroke-linejoin="round"/>
</g>
<rect x="25.7" y="461.1" width="183.8" height="140.29999999999995" fill="none" stroke="#2a2a2a" stroke-width="1"/>
<text x="176.50" y="471.10" font-size="7.9" text-anchor="end" textLength="67.40" lengthAdjust="spacingAndGlyphs" >"0.203,SP−HS,s3,IPI"</text>
<line x1="183.00" y1="468.50" x2="201.80" y2="468.50" stroke="#9400d3" stroke-width="0.8" />
<text x="176.50" y="480.10" font-size="7.9" text-anchor="end" textLength="97.10" lengthAdjust="spacingAndGlyphs" >"0.203,SP−HS,importance,IPI"</text>
<line x1="183.00" y1="477.50" x2="201.80" y2="477.50" stroke="#009e73" stroke-width="0.8" />
<text x="176.50" y="488.10" font-size="7.9" text-anchor="end" textLength="66.40" lengthAdjust="spacingAndGlyphs" >"0.117,SP−HS,ec,IPI"</text>
<line x1="183.00" y1="485.50" x2="201.80" y2="485.50" stroke="#56b4e9" stroke-width="0.8" />
<text x="176.50" y="497.10" font-size="7.9" text-anchor="end" textLength="78.30" lengthAdjust="spacingAndGlyphs" >"0.115,SP−HS,lgraal,IPI"</text>
<line x1="183.00" y1="494.50" x2="201.80" y2="494.50" stroke="#e69f00" stroke-width="0.8" />
<text x="176.50" y="505.10" font-size="7.9" text-anchor="end" textLength="87.90" lengthAdjust="spacingAndGlyphs" >"0.066,SP−HS,graphlet,IPI"</text>
<line x1="183.00" y1="502.50" x2="201.80" y2="502.50" stroke="#f0e442" stroke-width="0.8" />
<text x="118.30" y="451.20" font-size="7.9" text-anchor="middle" textLength="201.13" lengthAdjust="spacingAndGlyphs" >Precision−Recall of GO term predictions, S.pombe to human</text>
<text x="118.30" y="625.70" font-size="8.0" text-anchor="middle" textLength="19.60" lengthAdjust="spacingAndGlyphs" >Recall</text>
<text transform="translate(4.899999999999999,531.2) rotate(-90)" font-size="7.9" text-anchor="middle" textLength="29.4" lengthAdjust="spacingAndGlyphs">Precision</text>
<line x1="258.40" y1="601.40" x2="258.40" y2="598.40" stroke="#333" stroke-width="0.8" />
<line x1="258.40" y1="461.10" x2="258.40" y2="464.10" stroke="#333" stroke-width="0.8" />
<text x="259.80" y="612.80" font-size="7.9" text-anchor="middle" textLength="4.17" lengthAdjust="spacingAndGlyphs" >0</text>
<line x1="295.20" y1="601.40" x2="295.20" y2="598.40" stroke="#333" stroke-width="0.8" />
<line x1="295.20" y1="461.10" x2="295.20" y2="464.10" stroke="#333" stroke-width="0.8" />
<text x="296.60" y="612.80" font-size="7.9" text-anchor="middle" textLength="10.43" lengthAdjust="spacingAndGlyphs" >0.2</text>
<line x1="332.00" y1="601.40" x2="332.00" y2="598.40" stroke="#333" stroke-width="0.8" />
<line x1="332.00" y1="461.10" x2="332.00" y2="464.10" stroke="#333" stroke-width="0.8" />
<text x="333.40" y="612.80" font-size="7.9" text-anchor="middle" textLength="10.43" lengthAdjust="spacingAndGlyphs" >0.4</text>
<line x1="368.80" y1="601.40" x2="368.80" y2="598.40" stroke="#333" stroke-width="0.8" />
<line x1="368.80" y1="461.10" x2="368.80" y2="464.10" stroke="#333" stroke-width="0.8" />
<text x="370.20" y="612.80" font-size="7.9" text-anchor="middle" textLength="10.43" lengthAdjust="spacingAndGlyphs" >0.6</text>
<line x1="405.60" y1="601.40" x2="405.60" y2="598.40" stroke="#333" stroke-width="0.8" />
<line x1="405.60" y1="461.10" x2="405.60" y2="464.10" stroke="#333" stroke-width="0.8" />
<text x="407.00" y="612.80" font-size="7.9" text-anchor="middle" textLength="10.43" lengthAdjust="spacingAndGlyphs" >0.8</text>
<line x1="442.40" y1="601.40" x2="442.40" y2="598.40" stroke="#333" stroke-width="0.8" />
<line x1="442.40" y1="461.10" x2="442.40" y2="464.10" stroke="#333" stroke-width="0.8" />
<text x="443.80" y="612.80" font-size="7.9" text-anchor="middle" textLength="4.17" lengthAdjust="spacingAndGlyphs" >1</text>
<line x1="258.40" y1="601.40" x2="261.40" y2="601.40" stroke="#333" stroke-width="0.8" />
<line x1="442.40" y1="601.40" x2="439.40" y2="601.40" stroke="#333" stroke-width="0.8" />
<text x="255.10" y="604.60" font-size="7.9" text-anchor="end" textLength="4.17" lengthAdjust="spacingAndGlyphs" >0</text>
<line x1="258.40" y1="583.86" x2="261.40" y2="583.86" stroke="#333" stroke-width="0.8" />
<line x1="442.40" y1="583.86" x2="439.40" y2="583.86" stroke="#333" stroke-width="0.8" />
<text x="255.10" y="587.06" font-size="7.9" text-anchor="end" textLength="10.43" lengthAdjust="spacingAndGlyphs" >0.1</text>
<line x1="258.40" y1="566.33" x2="261.40" y2="566.33" stroke="#333" stroke-width="0.8" />
<line x1="442.40" y1="566.33" x2="439.40" y2="566.33" stroke="#333" stroke-width="0.8" />
<text x="255.10" y="569.53" font-size="7.9" text-anchor="end" textLength="10.43" lengthAdjust="spacingAndGlyphs" >0.2</text>
<line x1="258.40" y1="548.79" x2="261.40" y2="548.79" stroke="#333" stroke-width="0.8" />
<line x1="442.40" y1="548.79" x2="439.40" y2="548.79" stroke="#333" stroke-width="0.8" />
<text x="255.10" y="551.99" font-size="7.9" text-anchor="end" textLength="10.43" lengthAdjust="spacingAndGlyphs" >0.3</text>
<line x1="258.40" y1="531.25" x2="261.40" y2="531.25" stroke="#333" stroke-width="0.8" />
<line x1="442.40" y1="531.25" x2="439.40" y2="531.25" stroke="#333" stroke-width="0.8" />
<text x="255.10" y="534.45" font-size="7.9" text-anchor="end" textLength="10.43" lengthAdjust="spacingAndGlyphs" >0.4</text>
<line x1="258.40" y1="513.71" x2="261.40" y2="513.71" stroke="#333" stroke-width="0.8" />
<line x1="442.40" y1="513.71" x2="439.40" y2="513.71" stroke="#333" stroke-width="0.8" />
<text x="255.10" y="516.91" font-size="7.9" text-anchor="end" textLength="10.43" lengthAdjust="spacingAndGlyphs" >0.5</text>
<line x1="258.40" y1="496.18" x2="261.40" y2="496.18" stroke="#333" stroke-width="0.8" />
<line x1="442.40" y1="496.18" x2="439.40" y2="496.18" stroke="#333" stroke-width="0.8" />
<text x="255.10" y="499.38" font-size="7.9" text-anchor="end" textLength="10.43" lengthAdjust="spacingAndGlyphs" >0.6</text>
<line x1="258.40" y1="478.64" x2="261.40" y2="478.64" stroke="#333" stroke-width="0.8" />
<line x1="442.40" y1="478.64" x2="439.40" y2="478.64" stroke="#333" stroke-width="0.8" />
<text x="255.10" y="481.84" font-size="7.9" text-anchor="end" textLength="10.43" lengthAdjust="spacingAndGlyphs" >0.7</text>
<line x1="258.40" y1="461.10" x2="261.40" y2="461.10" stroke="#333" stroke-width="0.8" />
<line x1="442.40" y1="461.10" x2="439.40" y2="461.10" stroke="#333" stroke-width="0.8" />
<text x="255.10" y="464.30" font-size="7.9" text-anchor="end" textLength="10.43" lengthAdjust="spacingAndGlyphs" >0.8</text>
<clipPath id="c5"><rect x="258.4" y="461.1" width="184.0" height="140.29999999999995"/></clipPath>
<g clip-path="url(#c5)">
<path d="M258.40 540.54 L263.92 526.69 L272.75 527.74 L295.57 538.09 L442.40 578.78" stroke="#9400d3" stroke-width="0.9" fill="none" stroke-linejoin="round" transform="translate(0.3,0.6)"/>
<path d="M258.40 548.96 L263.92 538.09 L271.65 532.65 L295.57 541.77 L442.40 579.65" stroke="#009e73" stroke-width="0.9" fill="none" stroke-linejoin="round"/>
<path d="M258.40 582.81 L261.34 558.08 L268.52 547.74 L295.57 547.74 L442.40 581.06" stroke="#56b4e9" stroke-width="0.9" fill="none" stroke-linejoin="round"/>
<path d="M258.40 522.48 L259.14 472.50 L260.06 476.88 L261.34 484.25 L264.29 481.79 L267.60 488.28 L270.18 490.39 L274.41 492.32 L277.90 495.12 L281.22 500.73 L283.98 518.62 L286.00 538.09 L292.62 584.56 L301.64 596.66 L442.40 597.54" stroke="#e69f00" stroke-width="0.9" fill="none" stroke-linejoin="round"/>
<path d="M258.40 548.79 L259.32 473.90 L260.24 477.76 L261.34 485.48 L264.29 482.67 L267.60 489.16 L270.18 491.09 L274.41 493.02 L277.90 495.82 L281.58 501.61 L283.98 518.62 L286.00 538.09 L292.62 584.56 L301.64 596.66 L442.40 597.54" stroke="#f0e442" stroke-width="0.9" fill="none" stroke-linejoin="round"/>
</g>
<rect x="258.4" y="461.1" width="184.0" height="140.29999999999995" fill="none" stroke="#2a2a2a" stroke-width="1"/>
<text x="409.40" y="471.10" font-size="7.9" text-anchor="end" textLength="71.50" lengthAdjust="spacingAndGlyphs" >"0.179,SC−HS,ec,EXP"</text>
<line x1="415.90" y1="468.50" x2="434.70" y2="468.50" stroke="#9400d3" stroke-width="0.8" />
<text x="409.40" y="480.10" font-size="7.9" text-anchor="end" textLength="71.50" lengthAdjust="spacingAndGlyphs" >"0.172,SC−HS,s3,EXP"</text>
<line x1="415.90" y1="477.50" x2="434.70" y2="477.50" stroke="#009e73" stroke-width="0.8" />
<text x="409.40" y="488.10" font-size="7.9" text-anchor="end" textLength="101.50" lengthAdjust="spacingAndGlyphs" >"0.154,SC−HS,importance,EXP"</text>
<line x1="415.90" y1="485.50" x2="434.70" y2="485.50" stroke="#56b4e9" stroke-width="0.8" />
<text x="409.40" y="497.10" font-size="7.9" text-anchor="end" textLength="67.40" lengthAdjust="spacingAndGlyphs" >"0.115,SC−HS,s3,IPI"</text>
<line x1="415.90" y1="494.50" x2="434.70" y2="494.50" stroke="#e69f00" stroke-width="0.8" />
<text x="409.40" y="505.10" font-size="7.9" text-anchor="end" textLength="97.40" lengthAdjust="spacingAndGlyphs" >"0.115,SC−HS,importance,IPI"</text>
<line x1="415.90" y1="502.50" x2="434.70" y2="502.50" stroke="#f0e442" stroke-width="0.8" />
<text x="351.10" y="451.20" font-size="7.9" text-anchor="middle" textLength="189.04" lengthAdjust="spacingAndGlyphs" >Precision−Recall of GO term predictions, yeast to human</text>
<text x="351.10" y="625.70" font-size="8.0" text-anchor="middle" textLength="19.60" lengthAdjust="spacingAndGlyphs" >Recall</text>
<text transform="translate(237.59999999999997,531.2) rotate(-90)" font-size="7.9" text-anchor="middle" textLength="29.4" lengthAdjust="spacingAndGlyphs">Precision</text>
<line x1="490.90" y1="601.40" x2="490.90" y2="598.40" stroke="#333" stroke-width="0.8" />
<line x1="490.90" y1="461.10" x2="490.90" y2="464.10" stroke="#333" stroke-width="0.8" />
<text x="492.30" y="612.80" font-size="7.9" text-anchor="middle" textLength="4.17" lengthAdjust="spacingAndGlyphs" >0</text>
<line x1="527.62" y1="601.40" x2="527.62" y2="598.40" stroke="#333" stroke-width="0.8" />
<line x1="527.62" y1="461.10" x2="527.62" y2="464.10" stroke="#333" stroke-width="0.8" />
<text x="529.02" y="612.80" font-size="7.9" text-anchor="middle" textLength="10.43" lengthAdjust="spacingAndGlyphs" >0.2</text>
<line x1="564.34" y1="601.40" x2="564.34" y2="598.40" stroke="#333" stroke-width="0.8" />
<line x1="564.34" y1="461.10" x2="564.34" y2="464.10" stroke="#333" stroke-width="0.8" />
<text x="565.74" y="612.80" font-size="7.9" text-anchor="middle" textLength="10.43" lengthAdjust="spacingAndGlyphs" >0.4</text>
<line x1="601.06" y1="601.40" x2="601.06" y2="598.40" stroke="#333" stroke-width="0.8" />
<line x1="601.06" y1="461.10" x2="601.06" y2="464.10" stroke="#333" stroke-width="0.8" />
<text x="602.46" y="612.80" font-size="7.9" text-anchor="middle" textLength="10.43" lengthAdjust="spacingAndGlyphs" >0.6</text>
<line x1="637.78" y1="601.40" x2="637.78" y2="598.40" stroke="#333" stroke-width="0.8" />
<line x1="637.78" y1="461.10" x2="637.78" y2="464.10" stroke="#333" stroke-width="0.8" />
<text x="639.18" y="612.80" font-size="7.9" text-anchor="middle" textLength="10.43" lengthAdjust="spacingAndGlyphs" >0.8</text>
<line x1="674.50" y1="601.40" x2="674.50" y2="598.40" stroke="#333" stroke-width="0.8" />
<line x1="674.50" y1="461.10" x2="674.50" y2="464.10" stroke="#333" stroke-width="0.8" />
<text x="675.90" y="612.80" font-size="7.9" text-anchor="middle" textLength="4.17" lengthAdjust="spacingAndGlyphs" >1</text>
<line x1="490.90" y1="601.40" x2="493.90" y2="601.40" stroke="#333" stroke-width="0.8" />
<line x1="674.50" y1="601.40" x2="671.50" y2="601.40" stroke="#333" stroke-width="0.8" />
<text x="487.60" y="604.60" font-size="7.9" text-anchor="end" textLength="4.17" lengthAdjust="spacingAndGlyphs" >0</text>
<line x1="490.90" y1="573.34" x2="493.90" y2="573.34" stroke="#333" stroke-width="0.8" />
<line x1="674.50" y1="573.34" x2="671.50" y2="573.34" stroke="#333" stroke-width="0.8" />
<text x="487.60" y="576.54" font-size="7.9" text-anchor="end" textLength="10.43" lengthAdjust="spacingAndGlyphs" >0.2</text>
<line x1="490.90" y1="545.28" x2="493.90" y2="545.28" stroke="#333" stroke-width="0.8" />
<line x1="674.50" y1="545.28" x2="671.50" y2="545.28" stroke="#333" stroke-width="0.8" />
<text x="487.60" y="548.48" font-size="7.9" text-anchor="end" textLength="10.43" lengthAdjust="spacingAndGlyphs" >0.4</text>
<line x1="490.90" y1="517.22" x2="493.90" y2="517.22" stroke="#333" stroke-width="0.8" />
<line x1="674.50" y1="517.22" x2="671.50" y2="517.22" stroke="#333" stroke-width="0.8" />
<text x="487.60" y="520.42" font-size="7.9" text-anchor="end" textLength="10.43" lengthAdjust="spacingAndGlyphs" >0.6</text>
<line x1="490.90" y1="489.16" x2="493.90" y2="489.16" stroke="#333" stroke-width="0.8" />
<line x1="674.50" y1="489.16" x2="671.50" y2="489.16" stroke="#333" stroke-width="0.8" />
<text x="487.60" y="492.36" font-size="7.9" text-anchor="end" textLength="10.43" lengthAdjust="spacingAndGlyphs" >0.8</text>
<line x1="490.90" y1="461.10" x2="493.90" y2="461.10" stroke="#333" stroke-width="0.8" />
<line x1="674.50" y1="461.10" x2="671.50" y2="461.10" stroke="#333" stroke-width="0.8" />
<text x="487.60" y="464.30" font-size="7.9" text-anchor="end" textLength="4.17" lengthAdjust="spacingAndGlyphs" >1</text>
<clipPath id="c6"><rect x="490.9" y="461.1" width="183.60000000000002" height="140.29999999999995"/></clipPath>
<g clip-path="url(#c6)">
<path d="M490.90 545.28 L494.39 512.87 L508.34 525.78 L516.42 544.02 L527.62 585.55 L674.50 591.58" stroke="#9400d3" stroke-width="0.9" fill="none" stroke-linejoin="round" transform="translate(0.3,0.6)"/>
<path d="M490.90 517.50 L494.39 509.08 L508.34 523.25 L516.42 541.49 L526.89 584.98 L674.50 591.58" stroke="#009e73" stroke-width="0.9" fill="none" stroke-linejoin="round"/>
<path d="M490.90 548.51 L492.37 549.49 L494.39 557.63 L503.75 549.63 L508.34 552.29 L514.03 574.60 L537.90 577.27 L674.50 591.30" stroke="#56b4e9" stroke-width="0.9" fill="none" stroke-linejoin="round"/>
<path d="M490.90 461.52 L491.45 499.12 L518.81 587.79 L674.50 594.10" stroke="#e69f00" stroke-width="0.9" fill="none" stroke-linejoin="round"/>
<path d="M490.90 585.97 L492.00 568.01 L503.75 576.29 L517.34 577.83 L674.50 593.26" stroke="#f0e442" stroke-width="0.9" fill="none" stroke-linejoin="round"/>
</g>
<rect x="490.9" y="461.1" width="183.60000000000002" height="140.29999999999995" fill="none" stroke="#2a2a2a" stroke-width="1"/>
<text x="641.50" y="471.10" font-size="7.9" text-anchor="end" textLength="71.50" lengthAdjust="spacingAndGlyphs" >"0.140,MM−HS,s3,IPI"</text>
<line x1="648.00" y1="468.50" x2="666.80" y2="468.50" stroke="#9400d3" stroke-width="0.8" />
<text x="641.50" y="480.10" font-size="7.9" text-anchor="end" textLength="101.60" lengthAdjust="spacingAndGlyphs" >"0.140,MM−HS,importance,IPI"</text>
<line x1="648.00" y1="477.50" x2="666.80" y2="477.50" stroke="#009e73" stroke-width="0.8" />
<text x="641.50" y="488.10" font-size="7.9" text-anchor="end" textLength="82.40" lengthAdjust="spacingAndGlyphs" >"0.108,MM−HS,lgraal,IPI"</text>
<line x1="648.00" y1="485.50" x2="666.80" y2="485.50" stroke="#56b4e9" stroke-width="0.8" />
<text x="641.50" y="497.10" font-size="7.9" text-anchor="end" textLength="71.50" lengthAdjust="spacingAndGlyphs" >"0.098,MM−HS,ec,IPI"</text>
<line x1="648.00" y1="494.50" x2="666.80" y2="494.50" stroke="#e69f00" stroke-width="0.8" />
<text x="641.50" y="505.10" font-size="7.9" text-anchor="end" textLength="105.70" lengthAdjust="spacingAndGlyphs" >"0.061,MM−HS,importance,EXP"</text>
<line x1="648.00" y1="502.50" x2="666.80" y2="502.50" stroke="#f0e442" stroke-width="0.8" />
<text x="583.40" y="451.20" font-size="7.9" text-anchor="middle" textLength="193.63" lengthAdjust="spacingAndGlyphs" >Precision−Recall of GO term predictions, mouse to human</text>
<text x="583.40" y="625.70" font-size="8.0" text-anchor="middle" textLength="19.60" lengthAdjust="spacingAndGlyphs" >Recall</text>
<text transform="translate(470.09999999999997,531.2) rotate(-90)" font-size="7.9" text-anchor="middle" textLength="29.4" lengthAdjust="spacingAndGlyphs">Precision</text>
</svg>
</body></html>
